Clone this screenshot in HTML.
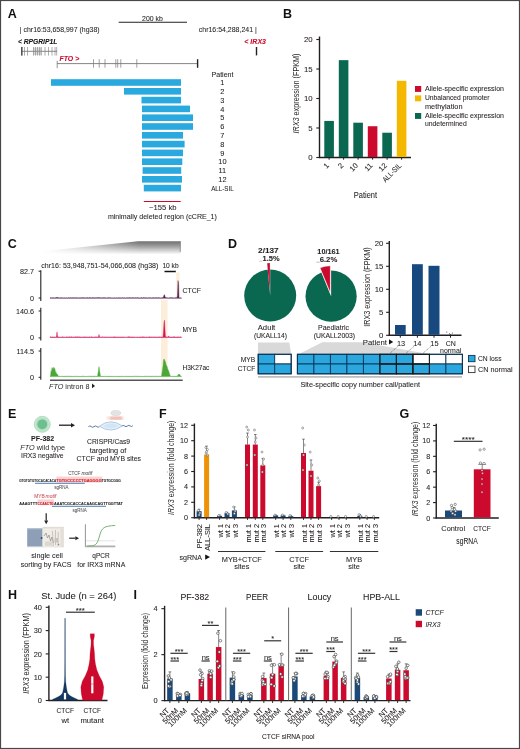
<!DOCTYPE html>
<html><head><meta charset="utf-8"><title>Figure</title>
<style>
html,body{margin:0;padding:0;background:#fff;}
body{width:520px;height:749px;overflow:hidden;font-family:"Liberation Sans",sans-serif;}
svg{display:block;will-change:transform;}
svg text{font-family:"Liberation Sans",sans-serif;}
</style></head><body>
<svg width="520" height="749" viewBox="0 0 520 749">
<rect x="0" y="0" width="520" height="749" fill="#fff"/>
<text x="7.7" y="17.7" font-size="12.5" font-weight="bold" fill="#111">A</text>
<text x="19.8" y="31.5" font-size="7.2" fill="#231f20" stroke="#231f20" stroke-width="0.07" textLength="79.8" lengthAdjust="spacingAndGlyphs">| chr16:53,658,997 (hg38)</text>
<line x1="118.7" y1="22.3" x2="187" y2="22.3" stroke="#222" stroke-width="1.1"/>
<text x="152.5" y="20.6" font-size="7.2" text-anchor="middle" fill="#231f20" stroke="#231f20" stroke-width="0.07" textLength="20.8" lengthAdjust="spacingAndGlyphs">200 kb</text>
<text x="198.8" y="31.5" font-size="7.2" fill="#231f20" stroke="#231f20" stroke-width="0.07" textLength="58" lengthAdjust="spacingAndGlyphs">chr16:54,288,241 |</text>
<text x="17.9" y="43.6" font-size="7" font-weight="bold" font-style="italic" fill="#111" stroke="#111" stroke-width="0.07" textLength="39.4" lengthAdjust="spacingAndGlyphs">&lt; RPGRIP1L</text>
<line x1="21.2" y1="51.3" x2="57" y2="51.3" stroke="#555" stroke-width="0.7"/>
<rect x="21" y="47" width="1.6" height="8.6" fill="#555"/>
<line x1="24.5" y1="47" x2="24.5" y2="55.6" stroke="#777" stroke-width="0.6"/>
<line x1="27.5" y1="47" x2="27.5" y2="55.6" stroke="#777" stroke-width="0.6"/>
<line x1="33.5" y1="47" x2="33.5" y2="55.6" stroke="#777" stroke-width="0.6"/>
<line x1="35.5" y1="47" x2="35.5" y2="55.6" stroke="#777" stroke-width="0.6"/>
<line x1="37.5" y1="47" x2="37.5" y2="55.6" stroke="#777" stroke-width="0.6"/>
<line x1="39.5" y1="47" x2="39.5" y2="55.6" stroke="#777" stroke-width="0.6"/>
<line x1="41.2" y1="47" x2="41.2" y2="55.6" stroke="#777" stroke-width="0.6"/>
<line x1="45" y1="47" x2="45" y2="55.6" stroke="#777" stroke-width="0.6"/>
<line x1="48.5" y1="47" x2="48.5" y2="55.6" stroke="#777" stroke-width="0.6"/>
<line x1="52" y1="47" x2="52" y2="55.6" stroke="#777" stroke-width="0.6"/>
<line x1="55" y1="47" x2="55" y2="55.6" stroke="#777" stroke-width="0.6"/>
<line x1="56.7" y1="47" x2="56.7" y2="55.6" stroke="#777" stroke-width="0.6"/>
<rect x="33" y="47.5" width="9" height="7.5" fill="#999" opacity="0.35"/>
<text x="59.5" y="61.3" font-size="7" font-weight="bold" font-style="italic" fill="#cc0a2e" stroke="#cc0a2e" stroke-width="0.07" textLength="19.7" lengthAdjust="spacingAndGlyphs">FTO &gt;</text>
<line x1="57.2" y1="63.6" x2="197.6" y2="63.6" stroke="#666" stroke-width="0.8"/>
<line x1="57.2" y1="60.8" x2="57.2" y2="68.2" stroke="#666" stroke-width="0.7"/>
<line x1="93.5" y1="59.2" x2="93.5" y2="67.7" stroke="#777" stroke-width="0.7"/>
<line x1="99.2" y1="59.2" x2="99.2" y2="67.7" stroke="#777" stroke-width="0.7"/>
<line x1="105" y1="59.2" x2="105" y2="67.7" stroke="#777" stroke-width="0.7"/>
<line x1="115.8" y1="59.2" x2="115.8" y2="67.7" stroke="#777" stroke-width="0.7"/>
<line x1="117.7" y1="59.2" x2="117.7" y2="67.7" stroke="#777" stroke-width="0.7"/>
<line x1="120.8" y1="59.2" x2="120.8" y2="67.7" stroke="#777" stroke-width="0.7"/>
<line x1="136.8" y1="59.2" x2="136.8" y2="67.7" stroke="#777" stroke-width="0.7"/>
<line x1="197.6" y1="59.2" x2="197.6" y2="67.8" stroke="#222" stroke-width="1.4"/>
<text x="244.3" y="43.7" font-size="7" font-weight="bold" font-style="italic" fill="#cc0a2e" stroke="#cc0a2e" stroke-width="0.07" textLength="21.7" lengthAdjust="spacingAndGlyphs">&lt; IRX3</text>
<line x1="256.5" y1="47" x2="256.5" y2="55.4" stroke="#222" stroke-width="1.4"/>
<text x="222.5" y="77" font-size="7.4" text-anchor="middle" fill="#231f20" stroke="#231f20" stroke-width="0.07" textLength="21.9" lengthAdjust="spacingAndGlyphs">Patient</text>
<rect x="51" y="79.2" width="130" height="6.6" fill="#29a9de"/>
<text x="222.4" y="85.1" font-size="7.4" text-anchor="middle" fill="#231f20" stroke="#231f20" stroke-width="0.07">1</text>
<rect x="124" y="88" width="57" height="6.6" fill="#29a9de"/>
<text x="222.4" y="93.9" font-size="7.4" text-anchor="middle" fill="#231f20" stroke="#231f20" stroke-width="0.07">2</text>
<rect x="141.5" y="96.8" width="39.5" height="6.6" fill="#29a9de"/>
<text x="222.4" y="102.7" font-size="7.4" text-anchor="middle" fill="#231f20" stroke="#231f20" stroke-width="0.07">3</text>
<rect x="142" y="105.6" width="48" height="6.6" fill="#29a9de"/>
<text x="222.4" y="111.5" font-size="7.4" text-anchor="middle" fill="#231f20" stroke="#231f20" stroke-width="0.07">4</text>
<rect x="142" y="114.4" width="51" height="6.6" fill="#29a9de"/>
<text x="222.4" y="120.3" font-size="7.4" text-anchor="middle" fill="#231f20" stroke="#231f20" stroke-width="0.07">5</text>
<rect x="142" y="123.2" width="51" height="6.6" fill="#29a9de"/>
<text x="222.4" y="129.1" font-size="7.4" text-anchor="middle" fill="#231f20" stroke="#231f20" stroke-width="0.07">6</text>
<rect x="142" y="132" width="41" height="6.6" fill="#29a9de"/>
<text x="222.4" y="137.9" font-size="7.4" text-anchor="middle" fill="#231f20" stroke="#231f20" stroke-width="0.07">7</text>
<rect x="142" y="140.8" width="42.6" height="6.6" fill="#29a9de"/>
<text x="222.4" y="146.7" font-size="7.4" text-anchor="middle" fill="#231f20" stroke="#231f20" stroke-width="0.07">8</text>
<rect x="142" y="149.6" width="41" height="6.6" fill="#29a9de"/>
<text x="222.4" y="155.5" font-size="7.4" text-anchor="middle" fill="#231f20" stroke="#231f20" stroke-width="0.07">9</text>
<rect x="142" y="158.4" width="40.3" height="6.6" fill="#29a9de"/>
<text x="222.4" y="164.3" font-size="7.4" text-anchor="middle" fill="#231f20" stroke="#231f20" stroke-width="0.07">10</text>
<rect x="142.6" y="167.2" width="38.6" height="6.6" fill="#29a9de"/>
<text x="222.4" y="173.1" font-size="7.4" text-anchor="middle" fill="#231f20" stroke="#231f20" stroke-width="0.07">11</text>
<rect x="142" y="176" width="40" height="6.6" fill="#29a9de"/>
<text x="222.4" y="181.9" font-size="7.4" text-anchor="middle" fill="#231f20" stroke="#231f20" stroke-width="0.07">12</text>
<rect x="143.8" y="184.8" width="37.2" height="6.6" fill="#29a9de"/>
<text x="222.4" y="190.7" font-size="7.4" text-anchor="middle" fill="#231f20" stroke="#231f20" stroke-width="0.07" textLength="22.4" lengthAdjust="spacingAndGlyphs">ALL-SIL</text>
<line x1="143.8" y1="201.5" x2="180.7" y2="201.5" stroke="#cc0a2e" stroke-width="1.1"/>
<text x="162.8" y="210.2" font-size="7.4" text-anchor="middle" fill="#231f20" stroke="#231f20" stroke-width="0.07" textLength="27.4" lengthAdjust="spacingAndGlyphs">~155 kb</text>
<text x="162.4" y="219.2" font-size="7.4" text-anchor="middle" fill="#231f20" stroke="#231f20" stroke-width="0.07" textLength="109" lengthAdjust="spacingAndGlyphs">minimally deleted region (cCRE_1)</text>
<text x="283" y="17.7" font-size="12.5" font-weight="bold" fill="#111">B</text>
<line x1="319.5" y1="36.5" x2="319.5" y2="158.1" stroke="#231f20" stroke-width="1.4"/>
<line x1="318.9" y1="157.5" x2="411" y2="157.5" stroke="#231f20" stroke-width="1.4"/>
<line x1="316.3" y1="157.5" x2="319.5" y2="157.5" stroke="#231f20" stroke-width="1.1"/>
<text x="312.6" y="160.2" font-size="7.8" text-anchor="end" fill="#231f20" stroke="#231f20" stroke-width="0.07">0</text>
<line x1="316.3" y1="128" x2="319.5" y2="128" stroke="#231f20" stroke-width="1.1"/>
<text x="312.6" y="130.7" font-size="7.8" text-anchor="end" fill="#231f20" stroke="#231f20" stroke-width="0.07">5</text>
<line x1="316.3" y1="98.5" x2="319.5" y2="98.5" stroke="#231f20" stroke-width="1.1"/>
<text x="312.6" y="101.2" font-size="7.8" text-anchor="end" fill="#231f20" stroke="#231f20" stroke-width="0.07">10</text>
<line x1="316.3" y1="69" x2="319.5" y2="69" stroke="#231f20" stroke-width="1.1"/>
<text x="312.6" y="71.7" font-size="7.8" text-anchor="end" fill="#231f20" stroke="#231f20" stroke-width="0.07">15</text>
<line x1="316.3" y1="39.5" x2="319.5" y2="39.5" stroke="#231f20" stroke-width="1.1"/>
<text x="312.6" y="42.2" font-size="7.8" text-anchor="end" fill="#231f20" stroke="#231f20" stroke-width="0.07">20</text>
<rect x="324.3" y="120.92" width="9.6" height="36.08" fill="#0b6850"/>
<line x1="329.1" y1="157.5" x2="329.1" y2="159.7" stroke="#231f20" stroke-width="1"/>
<text x="329.5" y="166.1" font-size="7.6" text-anchor="end" fill="#231f20" stroke="#231f20" stroke-width="0.07" transform="rotate(-45 329.5 166.1)">1</text>
<rect x="338.8" y="60.15" width="9.6" height="96.85" fill="#0b6850"/>
<line x1="343.6" y1="157.5" x2="343.6" y2="159.7" stroke="#231f20" stroke-width="1"/>
<text x="344" y="166.1" font-size="7.6" text-anchor="end" fill="#231f20" stroke="#231f20" stroke-width="0.07" transform="rotate(-45 344 166.1)">2</text>
<rect x="353.3" y="122.69" width="9.6" height="34.31" fill="#0b6850"/>
<line x1="358.1" y1="157.5" x2="358.1" y2="159.7" stroke="#231f20" stroke-width="1"/>
<text x="358.5" y="166.1" font-size="7.6" text-anchor="end" fill="#231f20" stroke="#231f20" stroke-width="0.07" transform="rotate(-45 358.5 166.1)">10</text>
<rect x="367.8" y="126.23" width="9.6" height="30.77" fill="#cc0a2e"/>
<line x1="372.6" y1="157.5" x2="372.6" y2="159.7" stroke="#231f20" stroke-width="1"/>
<text x="373" y="166.1" font-size="7.6" text-anchor="end" fill="#231f20" stroke="#231f20" stroke-width="0.07" transform="rotate(-45 373 166.1)">11</text>
<rect x="382.3" y="132.72" width="9.6" height="24.28" fill="#0b6850"/>
<line x1="387.1" y1="157.5" x2="387.1" y2="159.7" stroke="#231f20" stroke-width="1"/>
<text x="387.5" y="166.1" font-size="7.6" text-anchor="end" fill="#231f20" stroke="#231f20" stroke-width="0.07" transform="rotate(-45 387.5 166.1)">12</text>
<rect x="396.8" y="80.8" width="9.6" height="76.2" fill="#f5b800"/>
<line x1="401.6" y1="157.5" x2="401.6" y2="159.7" stroke="#231f20" stroke-width="1"/>
<text x="402" y="166.1" font-size="7.6" text-anchor="end" fill="#231f20" stroke="#231f20" stroke-width="0.07" textLength="23.5" lengthAdjust="spacingAndGlyphs" transform="rotate(-45 402 166.1)">ALL-SIL</text>
<text x="365.4" y="198.3" font-size="9" text-anchor="middle" fill="#231f20" stroke="#231f20" stroke-width="0.07" textLength="23.2" lengthAdjust="spacingAndGlyphs">Patient</text>
<text x="299.6" y="91.5" font-size="7" fill="#222" stroke="#222" stroke-width="0.07"></text>
<text x="299.0" y="93.5" font-size="8.6" text-anchor="middle" fill="#231f20" transform="rotate(-90 299.0 93.5)" textLength="80" lengthAdjust="spacingAndGlyphs"><tspan font-style="italic">IRX3</tspan> expression (FPKM)</text>
<rect x="415" y="86" width="6.2" height="5.9" fill="#cc0a2e"/>
<rect x="415" y="95.4" width="6.2" height="5.9" fill="#f5b800"/>
<rect x="415" y="113" width="6.2" height="5.9" fill="#0b6850"/>
<text x="425" y="91.3" font-size="7.2" fill="#231f20" stroke="#231f20" stroke-width="0.07" textLength="79" lengthAdjust="spacingAndGlyphs">Allele-specific expression</text>
<text x="425" y="100.2" font-size="7.2" fill="#231f20" stroke="#231f20" stroke-width="0.07" textLength="64.5" lengthAdjust="spacingAndGlyphs">Unbalanced promoter</text>
<text x="425" y="108.6" font-size="7.2" fill="#231f20" stroke="#231f20" stroke-width="0.07" textLength="37.5" lengthAdjust="spacingAndGlyphs">methylation</text>
<text x="425" y="118.4" font-size="7.2" fill="#231f20" stroke="#231f20" stroke-width="0.07" textLength="79" lengthAdjust="spacingAndGlyphs">Allele-specific expression</text>
<text x="425" y="126.4" font-size="7.2" fill="#231f20" stroke="#231f20" stroke-width="0.07" textLength="41.7" lengthAdjust="spacingAndGlyphs">undetermined</text>
<text x="7.7" y="248.3" font-size="12.5" font-weight="bold" fill="#111">C</text>
<defs><linearGradient id="wg" gradientUnits="userSpaceOnUse" x1="0" y1="241.2" x2="0" y2="254.5"><stop offset="0" stop-color="#6e6e6e"/><stop offset="0.35" stop-color="#9a9a9a"/><stop offset="1" stop-color="#ffffff"/></linearGradient><linearGradient id="wh" gradientUnits="userSpaceOnUse" x1="40" y1="0" x2="140" y2="0"><stop offset="0" stop-color="#fff" stop-opacity="1"/><stop offset="1" stop-color="#fff" stop-opacity="0"/></linearGradient></defs>
<polygon points="40,251.5 138,241.2 180.7,241.2 180.7,254.5 40,254.5" fill="url(#wg)"/>
<rect x="40" y="240" width="100" height="15" fill="url(#wh)"/>
<line x1="180.3" y1="241.2" x2="180.3" y2="252" stroke="#8a8a8a" stroke-width="0.8"/>
<text x="41.3" y="268.3" font-size="7.2" fill="#231f20" stroke="#231f20" stroke-width="0.07" textLength="117.1" lengthAdjust="spacingAndGlyphs">chr16: 53,948,751-54,066,608 (hg38)</text>
<text x="162.4" y="268.3" font-size="7.2" fill="#231f20" stroke="#231f20" stroke-width="0.07" textLength="16.2" lengthAdjust="spacingAndGlyphs">10 kb</text>
<line x1="164.5" y1="271.5" x2="175.8" y2="271.5" stroke="#111" stroke-width="1.5"/>
<rect x="176.2" y="272.5" width="3.4" height="26.1" fill="#fdeedc"/>
<rect x="161" y="299.8" width="6.6" height="77.4" fill="#fdeedc"/>
<line x1="40.8" y1="270.2" x2="40.8" y2="301" stroke="#231f20" stroke-width="1.1"/>
<line x1="38.6" y1="271.2" x2="40.8" y2="271.2" stroke="#231f20" stroke-width="1"/>
<line x1="38.6" y1="298" x2="40.8" y2="298" stroke="#231f20" stroke-width="1"/>
<text x="34" y="273.7" font-size="7.2" text-anchor="end" fill="#231f20" stroke="#231f20" stroke-width="0.07">82.7</text>
<text x="34" y="300.5" font-size="7.2" text-anchor="end" fill="#231f20" stroke="#231f20" stroke-width="0.07">0</text>
<line x1="40.8" y1="307.7" x2="40.8" y2="340.4" stroke="#231f20" stroke-width="1.1"/>
<line x1="38.6" y1="311" x2="40.8" y2="311" stroke="#231f20" stroke-width="1"/>
<line x1="38.6" y1="337.9" x2="40.8" y2="337.9" stroke="#231f20" stroke-width="1"/>
<text x="34" y="313.5" font-size="7.2" text-anchor="end" fill="#231f20" stroke="#231f20" stroke-width="0.07">140.6</text>
<text x="34" y="340.4" font-size="7.2" text-anchor="end" fill="#231f20" stroke="#231f20" stroke-width="0.07">0</text>
<line x1="40.8" y1="348" x2="40.8" y2="379.8" stroke="#231f20" stroke-width="1.1"/>
<line x1="38.6" y1="351" x2="40.8" y2="351" stroke="#231f20" stroke-width="1"/>
<line x1="38.6" y1="377.3" x2="40.8" y2="377.3" stroke="#231f20" stroke-width="1"/>
<text x="34" y="353.5" font-size="7.2" text-anchor="end" fill="#231f20" stroke="#231f20" stroke-width="0.07">114.5</text>
<text x="34" y="379.8" font-size="7.2" text-anchor="end" fill="#231f20" stroke="#231f20" stroke-width="0.07">0</text>
<path d="M50 298.2 L50 297.95 L50.5 297.66 L51 297.69 L51.5 297.9 L52 297.8 L52.5 297.82 L53 297.74 L53.5 297.68 L54 297.96 L54.5 297.99 L55 297.67 L55.5 297.83 L56 297.7 L56.5 297.6 L57 297 L57.5 297.6 L58 297.91 L58.5 297.62 L59 297.64 L59.5 297.99 L60 297.99 L60.5 297.78 L61 297.62 L61.5 297.85 L62 297.91 L62.5 297.83 L63 297.99 L63.5 297.91 L64 297.82 L64.5 297.8 L65 297.91 L65.5 297.91 L66 297.91 L66.5 297.82 L67 297.88 L67.5 297.99 L68 297.66 L68.5 297.78 L69 297.74 L69.5 297.93 L70 297.6 L70.5 297.66 L71 297.95 L71.5 297.87 L72 297.71 L72.5 297.72 L73 297.63 L73.5 297.83 L74 297.67 L74.5 297.73 L75 297.88 L75.5 297.76 L76 297.65 L76.5 297.66 L77 297.8 L77.5 297.76 L78 297.99 L78.5 297.9 L79 297.68 L79.5 297.83 L80 297.93 L80.5 297.78 L81 297.72 L81.5 297.73 L82 297.85 L82.5 297.82 L83 297.8 L83.5 297.69 L84 297.79 L84.5 297.84 L85 297.8 L85.5 297.99 L86 297.98 L86.5 297.72 L87 297.61 L87.5 297.76 L88 297.84 L88.5 297.93 L89 297.8 L89.5 297.61 L90 297.69 L90.5 297.78 L91 297.66 L91.5 297.91 L92 297.79 L92.5 297.62 L93 297.77 L93.5 297.82 L94 297.89 L94.5 297.78 L95 297.62 L95.5 298 L96 297.69 L96.5 297.67 L97 297.65 L97.5 297.7 L98 297.68 L98.5 297.7 L99 297.2 L99.5 297.7 L100 297.98 L100.5 297.65 L101 297.77 L101.5 297.92 L102 297.8 L102.5 297.81 L103 297.86 L103.5 297.86 L104 297.78 L104.5 297.75 L105 297.76 L105.5 297.82 L106 297.99 L106.5 297.91 L107 297.93 L107.5 297.77 L108 297.66 L108.5 297.68 L109 297.68 L109.5 297.67 L110 297.9 L110.5 297.66 L111 297.73 L111.5 297.97 L112 297.99 L112.5 297.99 L113 297.7 L113.5 297.9 L114 297.96 L114.5 297.75 L115 297.86 L115.5 297.97 L116 297.94 L116.5 297.79 L117 297.93 L117.5 297.89 L118 297.72 L118.5 297.82 L119 297.87 L119.5 297.81 L120 297.99 L120.5 297.85 L121 297.83 L121.5 297.92 L122 297.96 L122.5 297.64 L123 297.8 L123.5 297.92 L124 297.76 L124.5 297.67 L125 297.99 L125.5 297.99 L126 297.94 L126.5 297.71 L127 297.94 L127.5 297.72 L128 297.73 L128.5 297.78 L129 297.91 L129.5 297.61 L130 297.68 L130.5 297.79 L131 297.91 L131.5 297.74 L132 297.84 L132.5 297.77 L133 297.87 L133.5 297.75 L134 297.98 L134.5 297.88 L135 297.61 L135.5 297.65 L136 297.88 L136.5 297.66 L137 297.88 L137.5 297.62 L138 297.7 L138.5 297.83 L139 297.9 L139.5 298 L140 297.65 L140.5 297.98 L141 297.67 L141.5 297.62 L142 297.77 L142.5 297.93 L143 297.65 L143.5 297.61 L144 297.72 L144.5 297.8 L145 297.85 L145.5 297.86 L146 297.92 L146.5 297.73 L147 297.83 L147.5 297.92 L148 297.96 L148.5 297.73 L149 297.88 L149.5 297.8 L150 297.87 L150.5 297.65 L151 297.64 L151.5 297.99 L152 297.92 L152.5 297.87 L153 297.61 L153.5 297.69 L154 297.86 L154.5 297.91 L155 297.73 L155.5 297.66 L156 297.63 L156.5 297.86 L157 297.65 L157.5 297.73 L158 297.81 L158.5 297.61 L159 297.91 L159.5 297.71 L160 297.97 L160.5 297.93 L161 297.64 L161.5 297.91 L162 297.7 L162.5 297.76 L163 297.66 L163.5 296.8 L164 295.05 L164.5 294.7 L165 296.45 L165.5 297.76 L166 297.62 L166.5 297.65 L167 297.95 L167.5 297.78 L168 297.96 L168.5 297.98 L169 297.97 L169.5 297.65 L170 297.68 L170.5 297.67 L171 297.86 L171.5 297.75 L172 297.69 L172.5 297.85 L173 297.77 L173.5 297.91 L174 297.97 L174.5 297.89 L175 297.64 L175.5 297.77 L176 297.63 L176.5 297.82 L177 297.89 L177.5 295.26 L178 280.57 L178.5 283.51 L179 297.73 L179.5 297.96 L180 297.95 L180.5 297.65 L181 297.98 L181.5 297.9 L181.5 298.2 Z" fill="#4a2352" stroke="#4a2352" stroke-width="0.4"/>
<path d="M50 337.4 L50 336.82 L50.5 336.82 L51 337.18 L51.5 337.17 L52 336.87 L52.5 336.91 L53 336.93 L53.5 337.08 L54 336.96 L54.5 336.96 L55 336.97 L55.5 337.14 L56 337.03 L56.5 336.48 L57 331.9 L57.5 336.48 L58 336.82 L58.5 336.98 L59 337.02 L59.5 337.09 L60 337.19 L60.5 337.19 L61 337.01 L61.5 337.07 L62 337.05 L62.5 336.84 L63 336.99 L63.5 336.98 L64 337.11 L64.5 337.19 L65 337.07 L65.5 337.15 L66 337 L66.5 336.8 L67 336.93 L67.5 337.13 L68 336.84 L68.5 336.88 L69 336.91 L69.5 336.84 L70 336.89 L70.5 336.88 L71 337.06 L71.5 336.81 L72 336.82 L72.5 337.14 L73 336.9 L73.5 336.91 L74 337.02 L74.5 336.99 L75 337 L75.5 336.83 L76 337 L76.5 336.87 L77 337.06 L77.5 336.85 L78 336.84 L78.5 337.02 L79 336.97 L79.5 336.83 L80 336.91 L80.5 337.01 L81 337.11 L81.5 337.07 L82 336.92 L82.5 337.13 L83 336.84 L83.5 337.09 L84 336.84 L84.5 337.08 L85 336.82 L85.5 336.92 L86 337 L86.5 336.99 L87 336.94 L87.5 336.96 L88 337.08 L88.5 337.12 L89 337 L89.5 336.83 L90 336.95 L90.5 337.17 L91 336.87 L91.5 336.91 L92 336.84 L92.5 337.12 L93 336.9 L93.5 337.18 L94 336.94 L94.5 337.09 L95 337.11 L95.5 336.85 L96 337.16 L96.5 336.99 L97 336.86 L97.5 337.1 L98 337.12 L98.5 336.85 L99 334.4 L99.5 336.9 L100 337.19 L100.5 337.06 L101 337.13 L101.5 336.93 L102 337.17 L102.5 336.82 L103 337.19 L103.5 336.91 L104 337.19 L104.5 337.1 L105 336.87 L105.5 337.14 L106 337.13 L106.5 336.92 L107 337.05 L107.5 337.18 L108 336.8 L108.5 337.14 L109 337.19 L109.5 337.06 L110 336.95 L110.5 336.9 L111 337.15 L111.5 337.07 L112 337.19 L112.5 337.02 L113 336.89 L113.5 336.9 L114 336.84 L114.5 336.9 L115 336.86 L115.5 336.92 L116 337.01 L116.5 337.11 L117 336.94 L117.5 337.07 L118 337.16 L118.5 337.02 L119 336.85 L119.5 337.15 L120 336.97 L120.5 337.04 L121 336.99 L121.5 337.14 L122 336.82 L122.5 337.1 L123 336.96 L123.5 337.03 L124 337.19 L124.5 336.98 L125 337.14 L125.5 337.18 L126 337.19 L126.5 337.14 L127 337.16 L127.5 336.95 L128 337 L128.5 336.81 L129 336.83 L129.5 336.8 L130 337.11 L130.5 337.02 L131 337.1 L131.5 336.96 L132 336.95 L132.5 336.88 L133 336.92 L133.5 337.1 L134 337.03 L134.5 336.99 L135 337.2 L135.5 337.19 L136 337.04 L136.5 337.16 L137 336.91 L137.5 337.1 L138 337.16 L138.5 337.13 L139 337.11 L139.5 337.11 L140 336.99 L140.5 337.01 L141 337.08 L141.5 336.94 L142 337.12 L142.5 336.84 L143 336.81 L143.5 336.91 L144 337.03 L144.5 337 L145 336.97 L145.5 337.18 L146 337.03 L146.5 336.99 L147 337.13 L147.5 337.16 L148 336.88 L148.5 337.05 L149 336.99 L149.5 336.83 L150 336.96 L150.5 337.08 L151 336.81 L151.5 337.05 L152 337.19 L152.5 336.93 L153 337.16 L153.5 337.08 L154 336.86 L154.5 336.93 L155 337.19 L155.5 337.02 L156 337.04 L156.5 337.01 L157 337.12 L157.5 336.96 L158 337.17 L158.5 337.09 L159 337.05 L159.5 336.83 L160 337.17 L160.5 336.9 L161 337.12 L161.5 336.97 L162 337.04 L162.5 337.01 L163 336.9 L163.5 331.67 L164 322.13 L164.5 320.22 L165 329.76 L165.5 336.86 L166 336.94 L166.5 336.82 L167 336.92 L167.5 337.19 L168 336.65 L168.5 335.9 L169 336.65 L169.5 337 L170 337.06 L170.5 337.02 L171 336.88 L171.5 337.09 L172 336.99 L172.5 337.01 L173 336.82 L173.5 336.88 L174 336.83 L174.5 336.87 L175 337.08 L175.5 337.11 L176 337 L176.5 337.1 L177 337.03 L177.5 336.93 L178 336.83 L178.5 336.97 L179 336.87 L179.5 337.16 L180 337.06 L180.5 336.8 L181 337.14 L181.5 337.03 L181.5 337.4 Z" fill="#d4145a" stroke="#d4145a" stroke-width="0.4"/>
<path d="M50 376.6 L50 376.38 L50.5 376.29 L51 370.59 L51.5 371.68 L52 367.64 L52.5 369.49 L53 367.44 L53.5 367.59 L54 370.04 L54.5 367.73 L55 369.31 L55.5 372.5 L56 371.79 L56.5 373.94 L57 373.9 L57.5 374.37 L58 375.46 L58.5 376.33 L59 376.32 L59.5 376.17 L60 376.19 L60.5 376.42 L61 376.41 L61.5 376.38 L62 376.16 L62.5 376.32 L63 376.26 L63.5 376.36 L64 376.3 L64.5 376.33 L65 376.34 L65.5 376.27 L66 376.27 L66.5 376.18 L67 376.25 L67.5 376.17 L68 376.19 L68.5 376.15 L69 376.25 L69.5 376.4 L70 376.19 L70.5 376.16 L71 376.18 L71.5 376.28 L72 376.24 L72.5 376.39 L73 376.2 L73.5 376.28 L74 376.36 L74.5 376.43 L75 376.19 L75.5 376.15 L76 376.42 L76.5 376.21 L77 376.33 L77.5 376.4 L78 376.36 L78.5 376.22 L79 376.19 L79.5 376.44 L80 376.27 L80.5 376.44 L81 376.23 L81.5 376.35 L82 376.19 L82.5 376.16 L83 376.3 L83.5 376.15 L84 376.36 L84.5 376.43 L85 376.27 L85.5 376.44 L86 376.39 L86.5 376.33 L87 376.27 L87.5 376.4 L88 376.44 L88.5 376.19 L89 376.36 L89.5 376.16 L90 376.18 L90.5 376.34 L91 376.31 L91.5 376.29 L92 376.26 L92.5 376.27 L93 376.28 L93.5 376.26 L94 376.17 L94.5 376.3 L95 376.32 L95.5 376.23 L96 376.38 L96.5 376.36 L97 376.16 L97.5 376.29 L98 373.27 L98.5 369.93 L99 366.6 L99.5 369.93 L100 373.27 L100.5 376.27 L101 376.26 L101.5 376.43 L102 376.26 L102.5 376.31 L103 376.25 L103.5 376.34 L104 376.24 L104.5 376.23 L105 376.44 L105.5 376.43 L106 376.25 L106.5 376.16 L107 376.37 L107.5 376.31 L108 376.27 L108.5 376.35 L109 376.34 L109.5 376.36 L110 376.34 L110.5 376.27 L111 376.36 L111.5 376.34 L112 376.22 L112.5 376.44 L113 376.28 L113.5 376.23 L114 376.36 L114.5 376.38 L115 376.21 L115.5 376.38 L116 376.39 L116.5 376.32 L117 376.24 L117.5 376.42 L118 376.35 L118.5 376.35 L119 376.2 L119.5 376.32 L120 376.19 L120.5 376.4 L121 376.35 L121.5 376.25 L122 376.18 L122.5 376.31 L123 376.38 L123.5 376.41 L124 376.29 L124.5 376.39 L125 376.21 L125.5 376.2 L126 376.39 L126.5 376.37 L127 376.21 L127.5 376.26 L128 376.21 L128.5 376.35 L129 376.41 L129.5 376.36 L130 376.21 L130.5 376.37 L131 376.35 L131.5 376.32 L132 376.32 L132.5 376.33 L133 376.17 L133.5 376.4 L134 376.45 L134.5 376.17 L135 376.19 L135.5 376.15 L136 376.32 L136.5 376.16 L137 376.17 L137.5 376.38 L138 376.23 L138.5 376.2 L139 376.25 L139.5 376.29 L140 376.36 L140.5 376.35 L141 376.38 L141.5 376.43 L142 376.27 L142.5 376.36 L143 376.21 L143.5 376.44 L144 376.18 L144.5 376.24 L145 376.17 L145.5 376.18 L146 376.18 L146.5 376.28 L147 376.45 L147.5 376.23 L148 376.4 L148.5 376.36 L149 376.25 L149.5 376.29 L150 376.33 L150.5 376.17 L151 376.27 L151.5 376.35 L152 376.37 L152.5 376.19 L153 376.31 L153.5 376.22 L154 376.34 L154.5 376.39 L155 376.29 L155.5 376.2 L156 376.4 L156.5 376.21 L157 376.17 L157.5 376.21 L158 376.2 L158.5 376.45 L159 376.26 L159.5 376.19 L160 376.44 L160.5 376.37 L161 376.37 L161.5 376.29 L162 372.64 L162.5 369.56 L163 365.92 L163.5 360.26 L164 358.91 L164.5 359.62 L165 360.94 L165.5 361.81 L166 364.13 L166.5 365.64 L167 366.03 L167.5 368.44 L168 369.46 L168.5 370.5 L169 372.01 L169.5 373.72 L170 375.14 L170.5 376.24 L171 376.24 L171.5 376.38 L172 376.29 L172.5 376.24 L173 376.43 L173.5 376.32 L174 376.32 L174.5 376.19 L175 376.17 L175.5 376.34 L176 376.18 L176.5 376.21 L177 376.37 L177.5 376.31 L178 374.6 L178.5 374.6 L179 374.6 L179.5 374.6 L180 374.6 L180.5 376.25 L181 376.23 L181.5 376.28 L181.5 376.6 Z" fill="#4aa837" stroke="#4aa837" stroke-width="0.4"/>
<line x1="50" y1="380.3" x2="182.7" y2="380.3" stroke="#555" stroke-width="1.6"/>
<text x="49" y="388.8" font-size="7.8" fill="#231f20" textLength="40.5" lengthAdjust="spacingAndGlyphs"><tspan font-style="italic">FTO</tspan> intron 8</text>
<polygon points="92,383.6 92,388.2 95,385.9" fill="#222"/>
<text x="182.4" y="292.5" font-size="7.3" fill="#231f20" stroke="#231f20" stroke-width="0.07" textLength="18.5" lengthAdjust="spacingAndGlyphs">CTCF</text>
<text x="182.4" y="331.8" font-size="7.3" fill="#231f20" stroke="#231f20" stroke-width="0.07" textLength="14.5" lengthAdjust="spacingAndGlyphs">MYB</text>
<text x="182.4" y="370.3" font-size="7.3" fill="#231f20" stroke="#231f20" stroke-width="0.07" textLength="27" lengthAdjust="spacingAndGlyphs">H3K27ac</text>
<text x="228" y="248.2" font-size="12.5" font-weight="bold" fill="#111">D</text>
<circle cx="270.2" cy="295.6" r="26" fill="#0b6850"/>
<path d="M270.2 295.6 L267.72 269.42 A26.3 26.3 0 0 1 270.2 269.3 Z" fill="#ffffff"/>
<path d="M269.9 292 L267.17 263.13 A29 29 0 0 1 269.9 263 Z" fill="#cc0a2e"/>
<circle cx="331.1" cy="296.2" r="25.6" fill="#0b6850"/>
<path d="M331.1 296.2 L321.27 272.24 A25.9 25.9 0 0 1 331.1 270.3 Z" fill="#ffffff"/>
<path d="M330.4 293.2 L319.96 267.76 A27.5 27.5 0 0 1 330.4 265.7 Z" fill="#cc0a2e" stroke="#fff" stroke-width="0.6"/>
<text x="268.4" y="252.7" font-size="7.2" text-anchor="middle" font-weight="bold" fill="#231f20" stroke="#231f20" stroke-width="0.07" textLength="20.6" lengthAdjust="spacingAndGlyphs">2/137</text>
<text x="262.6" y="260.9" font-size="7.2" font-weight="bold" fill="#231f20" stroke="#231f20" stroke-width="0.07" textLength="17" lengthAdjust="spacingAndGlyphs">1.5%</text>
<line x1="259.2" y1="261.2" x2="262.2" y2="261.2" stroke="#c9a3aa" stroke-width="0.6"/>
<text x="328.5" y="253.6" font-size="7.2" text-anchor="middle" font-weight="bold" fill="#231f20" stroke="#231f20" stroke-width="0.07" textLength="22.3" lengthAdjust="spacingAndGlyphs">10/161</text>
<text x="319.7" y="261.9" font-size="7.2" font-weight="bold" fill="#231f20" stroke="#231f20" stroke-width="0.07" textLength="17.6" lengthAdjust="spacingAndGlyphs">6.2%</text>
<line x1="316.3" y1="262.2" x2="319.8" y2="262.2" stroke="#9a9a9a" stroke-width="0.6"/>
<text x="266.5" y="329.5" font-size="7.4" text-anchor="middle" fill="#231f20" stroke="#231f20" stroke-width="0.07" textLength="17.5" lengthAdjust="spacingAndGlyphs">Adult</text>
<text x="270.5" y="337.6" font-size="7.4" text-anchor="middle" fill="#231f20" stroke="#231f20" stroke-width="0.07" textLength="33" lengthAdjust="spacingAndGlyphs">(UKALL14)</text>
<text x="333.5" y="329.8" font-size="7.4" text-anchor="middle" fill="#231f20" stroke="#231f20" stroke-width="0.07" textLength="31" lengthAdjust="spacingAndGlyphs">Paediatric</text>
<text x="334.4" y="337.6" font-size="7.4" text-anchor="middle" fill="#231f20" stroke="#231f20" stroke-width="0.07" textLength="41.3" lengthAdjust="spacingAndGlyphs">(UKALL2003)</text>
<polygon points="258,342.4 289.3,342.4 291.2,354.3 258,354.3" fill="#d9d9d9"/>
<polygon points="298.5,354.3 322.3,342.3 362,342.3 430,354.3" fill="#d9d9d9"/>
<line x1="389.3" y1="241" x2="389.3" y2="335.9" stroke="#231f20" stroke-width="1.4"/>
<line x1="388.7" y1="335.3" x2="461.5" y2="335.3" stroke="#231f20" stroke-width="1.4"/>
<line x1="386.1" y1="335.3" x2="389.3" y2="335.3" stroke="#231f20" stroke-width="1.1"/>
<text x="383.4" y="338" font-size="7.8" text-anchor="end" fill="#231f20" stroke="#231f20" stroke-width="0.07">0</text>
<line x1="386.1" y1="312.3" x2="389.3" y2="312.3" stroke="#231f20" stroke-width="1.1"/>
<text x="383.4" y="315" font-size="7.8" text-anchor="end" fill="#231f20" stroke="#231f20" stroke-width="0.07">5</text>
<line x1="386.1" y1="289.3" x2="389.3" y2="289.3" stroke="#231f20" stroke-width="1.1"/>
<text x="383.4" y="292" font-size="7.8" text-anchor="end" fill="#231f20" stroke="#231f20" stroke-width="0.07">10</text>
<line x1="386.1" y1="266.3" x2="389.3" y2="266.3" stroke="#231f20" stroke-width="1.1"/>
<text x="383.4" y="269" font-size="7.8" text-anchor="end" fill="#231f20" stroke="#231f20" stroke-width="0.07">15</text>
<line x1="386.1" y1="243.3" x2="389.3" y2="243.3" stroke="#231f20" stroke-width="1.1"/>
<text x="383.4" y="246" font-size="7.8" text-anchor="end" fill="#231f20" stroke="#231f20" stroke-width="0.07">20</text>
<text x="369.6" y="287.0" font-size="8.6" text-anchor="middle" fill="#231f20" transform="rotate(-90 369.6 287.0)" textLength="79.5" lengthAdjust="spacingAndGlyphs">IRX3 expression (FPKM)</text>
<rect x="395" y="325" width="10.7" height="9.8" fill="#17497f"/>
<rect x="412" y="264.2" width="10.8" height="70.6" fill="#17497f"/>
<rect x="428.5" y="265.8" width="11" height="69" fill="#17497f"/>
<line x1="400.3" y1="335.3" x2="400.3" y2="337.7" stroke="#231f20" stroke-width="1"/>
<line x1="417.4" y1="335.3" x2="417.4" y2="337.7" stroke="#231f20" stroke-width="1"/>
<line x1="434" y1="335.3" x2="434" y2="337.7" stroke="#231f20" stroke-width="1"/>
<line x1="450.5" y1="335.3" x2="450.5" y2="337.7" stroke="#231f20" stroke-width="1"/>
<circle cx="446.8" cy="332" r="0.5" fill="#222"/>
<circle cx="449.5" cy="333.8" r="0.5" fill="#222"/>
<circle cx="452.3" cy="333" r="0.5" fill="#222"/>
<circle cx="450.6" cy="334.4" r="0.5" fill="#222"/>
<text x="362.8" y="344.6" font-size="7.4" fill="#231f20" stroke="#231f20" stroke-width="0.07" textLength="24.2" lengthAdjust="spacingAndGlyphs">Patient</text>
<polygon points="389,339.3 389,344.5 393.2,341.9" fill="#111"/>
<text x="401" y="346.2" font-size="7.4" text-anchor="middle" fill="#231f20" stroke="#231f20" stroke-width="0.07">13</text>
<text x="417.3" y="346.2" font-size="7.4" text-anchor="middle" fill="#231f20" stroke="#231f20" stroke-width="0.07">14</text>
<text x="434.4" y="346.2" font-size="7.4" text-anchor="middle" fill="#231f20" stroke="#231f20" stroke-width="0.07">15</text>
<text x="450.8" y="346.2" font-size="7.4" text-anchor="middle" fill="#231f20" stroke="#231f20" stroke-width="0.07" textLength="10.1" lengthAdjust="spacingAndGlyphs">CN</text>
<text x="450.7" y="353.4" font-size="7.4" text-anchor="middle" fill="#231f20" stroke="#231f20" stroke-width="0.07" textLength="21.3" lengthAdjust="spacingAndGlyphs">normal</text>
<line x1="397.7" y1="346.5" x2="390" y2="353.2" stroke="#333" stroke-width="0.6" stroke-dasharray="1,0.9"/>
<line x1="413.8" y1="346.5" x2="406" y2="353.2" stroke="#333" stroke-width="0.6" stroke-dasharray="1,0.9"/>
<line x1="430.8" y1="346.5" x2="423" y2="353.2" stroke="#333" stroke-width="0.6" stroke-dasharray="1,0.9"/>
<text x="255.2" y="361.7" font-size="7.3" text-anchor="end" fill="#231f20" stroke="#231f20" stroke-width="0.07" textLength="14.5" lengthAdjust="spacingAndGlyphs">MYB</text>
<text x="255.2" y="371.4" font-size="7.3" text-anchor="end" fill="#231f20" stroke="#231f20" stroke-width="0.07" textLength="17.5" lengthAdjust="spacingAndGlyphs">CTCF</text>
<rect x="258.2" y="354.3" width="16.5" height="9.7" fill="#2aa7df" stroke="#0c3554" stroke-width="0.9"/>
<rect x="258.2" y="364" width="16.5" height="9.8" fill="#2aa7df" stroke="#0c3554" stroke-width="0.9"/>
<rect x="274.7" y="354.3" width="16.5" height="9.7" fill="#ffffff" stroke="#0c3554" stroke-width="0.9"/>
<rect x="274.7" y="364" width="16.5" height="9.8" fill="#2aa7df" stroke="#0c3554" stroke-width="0.9"/>
<rect x="258.2" y="354.3" width="33" height="19.5" fill="none" stroke="#0c3554" stroke-width="1.1"/>
<rect x="297.4" y="354.3" width="16.5" height="9.7" fill="#2aa7df" stroke="#0c3554" stroke-width="0.9"/>
<rect x="297.4" y="364" width="16.5" height="9.8" fill="#2aa7df" stroke="#0c3554" stroke-width="0.9"/>
<rect x="313.9" y="354.3" width="16.5" height="9.7" fill="#2aa7df" stroke="#0c3554" stroke-width="0.9"/>
<rect x="313.9" y="364" width="16.5" height="9.8" fill="#2aa7df" stroke="#0c3554" stroke-width="0.9"/>
<rect x="330.4" y="354.3" width="16.5" height="9.7" fill="#2aa7df" stroke="#0c3554" stroke-width="0.9"/>
<rect x="330.4" y="364" width="16.5" height="9.8" fill="#2aa7df" stroke="#0c3554" stroke-width="0.9"/>
<rect x="346.9" y="354.3" width="16.5" height="9.7" fill="#2aa7df" stroke="#0c3554" stroke-width="0.9"/>
<rect x="346.9" y="364" width="16.5" height="9.8" fill="#2aa7df" stroke="#0c3554" stroke-width="0.9"/>
<rect x="363.4" y="354.3" width="16.5" height="9.7" fill="#2aa7df" stroke="#0c3554" stroke-width="0.9"/>
<rect x="363.4" y="364" width="16.5" height="9.8" fill="#2aa7df" stroke="#0c3554" stroke-width="0.9"/>
<rect x="379.9" y="354.3" width="16.5" height="9.7" fill="#2aa7df" stroke="#0c3554" stroke-width="0.9"/>
<rect x="379.9" y="364" width="16.5" height="9.8" fill="#2aa7df" stroke="#0c3554" stroke-width="0.9"/>
<rect x="396.4" y="354.3" width="16.5" height="9.7" fill="#2aa7df" stroke="#0c3554" stroke-width="0.9"/>
<rect x="396.4" y="364" width="16.5" height="9.8" fill="#2aa7df" stroke="#0c3554" stroke-width="0.9"/>
<rect x="412.9" y="354.3" width="16.5" height="9.7" fill="#ffffff" stroke="#0c3554" stroke-width="0.9"/>
<rect x="412.9" y="364" width="16.5" height="9.8" fill="#2aa7df" stroke="#0c3554" stroke-width="0.9"/>
<rect x="429.4" y="354.3" width="16.5" height="9.7" fill="#ffffff" stroke="#0c3554" stroke-width="0.9"/>
<rect x="429.4" y="364" width="16.5" height="9.8" fill="#2aa7df" stroke="#0c3554" stroke-width="0.9"/>
<rect x="445.9" y="354.3" width="16.5" height="9.7" fill="#ffffff" stroke="#0c3554" stroke-width="0.9"/>
<rect x="445.9" y="364" width="16.5" height="9.8" fill="#2aa7df" stroke="#0c3554" stroke-width="0.9"/>
<rect x="297.4" y="354.3" width="165" height="19.5" fill="none" stroke="#0c3554" stroke-width="1.1"/>
<rect x="379.9" y="354.3" width="16.5" height="9.7" fill="none" stroke="#1a1a1a" stroke-width="1"/>
<rect x="379.9" y="364" width="16.5" height="9.8" fill="none" stroke="#1a1a1a" stroke-width="1"/>
<rect x="396.4" y="354.3" width="16.5" height="9.7" fill="none" stroke="#1a1a1a" stroke-width="1"/>
<rect x="396.4" y="364" width="16.5" height="9.8" fill="none" stroke="#1a1a1a" stroke-width="1"/>
<rect x="412.9" y="354.3" width="16.5" height="9.7" fill="none" stroke="#1a1a1a" stroke-width="1"/>
<rect x="412.9" y="364" width="16.5" height="9.8" fill="none" stroke="#1a1a1a" stroke-width="1"/>
<line x1="258" y1="376.9" x2="462" y2="376.9" stroke="#bdbdbd" stroke-width="1.6"/>
<text x="360.2" y="387" font-size="7.4" text-anchor="middle" fill="#231f20" stroke="#231f20" stroke-width="0.07" textLength="119.5" lengthAdjust="spacingAndGlyphs">Site-specific copy number call/patient</text>
<rect x="468.5" y="355.4" width="6.5" height="6.3" fill="#2aa7df" stroke="#0c3554" stroke-width="0.9"/>
<rect x="468.5" y="366.2" width="6.5" height="6.4" fill="#fff" stroke="#333" stroke-width="0.9"/>
<text x="478" y="361" font-size="7.4" fill="#231f20" stroke="#231f20" stroke-width="0.07" textLength="23.5" lengthAdjust="spacingAndGlyphs">CN loss</text>
<text x="478" y="371.8" font-size="7.4" fill="#231f20" stroke="#231f20" stroke-width="0.07" textLength="34.6" lengthAdjust="spacingAndGlyphs">CN normal</text>
<text x="7.9" y="418" font-size="12.5" font-weight="bold" fill="#111">E</text>
<circle cx="42.25" cy="424.3" r="8" fill="#c4e7d0" stroke="#a3d3b5" stroke-width="0.7"/>
<circle cx="42.25" cy="424.3" r="6.3" fill="#b3e0c3"/>
<circle cx="42.25" cy="424.3" r="4.9" fill="#6dbf8f"/>
<line x1="59" y1="425.2" x2="71" y2="425.2" stroke="#222" stroke-width="1.3"/>
<polygon points="75,425.2 71,427.4 71,423" fill="#222"/>
<text x="42.6" y="441.3" font-size="7.6" text-anchor="middle" font-weight="bold" fill="#231f20" stroke="#231f20" stroke-width="0.07" textLength="23" lengthAdjust="spacingAndGlyphs">PF-382</text>
<text x="42.6" y="450.2" font-size="7.6" text-anchor="middle" fill="#231f20" textLength="44.8" lengthAdjust="spacingAndGlyphs"><tspan font-style="italic">FTO</tspan> wild type</text>
<text x="42.3" y="458.2" font-size="7.6" text-anchor="middle" fill="#231f20" stroke="#231f20" stroke-width="0.07" textLength="42.5" lengthAdjust="spacingAndGlyphs">IRX3 negative</text>
<path d="M88.4 426.6 q1.4 -1.3 2.8 0 t2.8 0 t2.8 0 t2.8 0" fill="none" stroke="#35598a" stroke-width="0.8"/>
<path d="M121.8 426.0 q1.4 -1.3 2.8 0 t2.8 0 t2.8 0 t2.6 -0.4" fill="none" stroke="#35598a" stroke-width="0.8"/>
<defs><linearGradient id="pk" x1="0" y1="0" x2="1" y2="0"><stop offset="0" stop-color="#f7d9d2" stop-opacity="0.2"/><stop offset="0.3" stop-color="#f3c3bb"/><stop offset="0.8" stop-color="#f1c0b5"/><stop offset="1" stop-color="#f7d9d2" stop-opacity="0.2"/></linearGradient></defs>
<rect x="106" y="416.4" width="18.4" height="3.4" fill="url(#pk)"/>
<path d="M99.4 426.2 Q 110.5 417.6 122.5 426.0 Q 110.5 434.0 99.4 426.2 Z" fill="#e4eef8" stroke="#9fc3e2" stroke-width="0.8"/>
<path d="M103 426.2 Q 110.5 421 118.5 426.0 Q 110.5 430.6 103 426.2 Z" fill="#d3e5f4"/>
<ellipse cx="115.8" cy="413.1" rx="4.8" ry="2.5" fill="#ececec" stroke="#c4c4c4" stroke-width="0.5"/>
<line x1="112" y1="412.2" x2="119.5" y2="412.2" stroke="#cfcfcf" stroke-width="0.5"/>
<line x1="111.6" y1="414" x2="119.8" y2="414" stroke="#cfcfcf" stroke-width="0.5"/>
<text x="108.6" y="444.2" font-size="7.6" text-anchor="middle" fill="#231f20" stroke="#231f20" stroke-width="0.07" textLength="43" lengthAdjust="spacingAndGlyphs">CRISPR/Cas9</text>
<text x="108" y="452.8" font-size="7.6" text-anchor="middle" fill="#231f20" stroke="#231f20" stroke-width="0.07" textLength="36.6" lengthAdjust="spacingAndGlyphs">targeting of</text>
<text x="108.8" y="461.4" font-size="7.6" text-anchor="middle" fill="#231f20" stroke="#231f20" stroke-width="0.07" textLength="64.4" lengthAdjust="spacingAndGlyphs">CTCF and MYB sites</text>
<text x="80.4" y="474.7" font-size="5.8" text-anchor="end" fill="#555" stroke="#555" stroke-width="0.07" textLength="12.2" lengthAdjust="spacingAndGlyphs">CTCF</text>
<text x="81.4" y="474.7" font-size="5.8" font-style="italic" fill="#555" stroke="#555" stroke-width="0.07" textLength="10.8" lengthAdjust="spacingAndGlyphs">motif</text>
<rect x="56.3" y="476.6" width="46" height="6" fill="#f8d2d2"/>
<text x="19.2" y="482" font-size="4.3" font-weight="bold" fill="#222" stroke="#222" stroke-width="0.07" textLength="37" lengthAdjust="spacingAndGlyphs">GTGTGTGTGCACACACA</text>
<text x="56.3" y="482" font-size="4.3" font-weight="bold" fill="#c8202e" stroke="#c8202e" stroke-width="0.07" textLength="45.4" lengthAdjust="spacingAndGlyphs">TGTGCCCCCTGAGGGG</text>
<text x="101.7" y="482" font-size="4.3" font-weight="bold" fill="#222" stroke="#222" stroke-width="0.07" textLength="19.1" lengthAdjust="spacingAndGlyphs">TGTGCGGG</text>
<line x1="35" y1="483.3" x2="84.8" y2="483.3" stroke="#3b6fb0" stroke-width="0.9"/>
<text x="61.4" y="488.9" font-size="6" text-anchor="middle" fill="#555" stroke="#555" stroke-width="0.07" textLength="14.2" lengthAdjust="spacingAndGlyphs">sgRNA</text>
<text x="44.6" y="497.8" font-size="5.8" text-anchor="end" fill="#c8505e" stroke="#c8505e" stroke-width="0.07" textLength="10.4" lengthAdjust="spacingAndGlyphs">MYB</text>
<text x="45.6" y="497.8" font-size="5.8" font-style="italic" fill="#c8505e" stroke="#c8505e" stroke-width="0.07" textLength="10.6" lengthAdjust="spacingAndGlyphs">motif</text>
<rect x="37.5" y="499.4" width="16.6" height="5.8" fill="#f8d2d2"/>
<text x="19.2" y="504.8" font-size="4.3" font-weight="bold" fill="#222" stroke="#222" stroke-width="0.07" textLength="18.1" lengthAdjust="spacingAndGlyphs">AAAGTTT</text>
<text x="37.6" y="504.8" font-size="4.3" font-weight="bold" fill="#c8202e" stroke="#c8202e" stroke-width="0.07" textLength="16" lengthAdjust="spacingAndGlyphs">CCAACTG</text>
<text x="54.1" y="504.8" font-size="4.3" font-weight="bold" fill="#222" stroke="#222" stroke-width="0.07" textLength="68.8" lengthAdjust="spacingAndGlyphs">AAATCGCACCACAAGCAGTTGGTTAT</text>
<line x1="52" y1="506.3" x2="106" y2="506.3" stroke="#3b6fb0" stroke-width="0.9"/>
<text x="79.7" y="512" font-size="6" text-anchor="middle" fill="#555" stroke="#555" stroke-width="0.07" textLength="14.2" lengthAdjust="spacingAndGlyphs">sgRNA</text>
<line x1="46.2" y1="513.3" x2="46.2" y2="520.6" stroke="#222" stroke-width="1.2"/>
<polygon points="46.2,524.2 44.22,520.6 48.18,520.6" fill="#222"/>
<rect x="27.2" y="528.5" width="15.4" height="18.1" fill="#8c9fb6"/>
<rect x="27.2" y="528.5" width="15.4" height="1.1" fill="#a5b4c6"/>
<rect x="42.6" y="526.9" width="21.2" height="19.7" fill="#f0ede7"/>
<rect x="42.6" y="526.9" width="21.2" height="1.5" fill="#e2ddd4"/>
<rect x="60.5" y="528.4" width="3.3" height="18.2" fill="#e4e0d8"/>
<circle cx="41.6" cy="538" r="0.9" fill="#3b4656"/>
<path d="M44 536 L46 533 L47.5 538 L49 535 L50.5 541 L52 537 L53.5 543" fill="none" stroke="#8f8a84" stroke-width="0.7"/>
<path d="M52.5 531 L53.2 546 M55.5 530 L55.5 545 M58.2 532 L58.2 546" fill="none" stroke="#b7b1a8" stroke-width="0.7"/>
<rect x="45" y="541.5" width="7" height="4.3" fill="#dcd7cf"/>
<rect x="54.5" y="538" width="3.5" height="4.5" fill="#c9c3b9"/>
<circle cx="58.5" cy="544.5" r="0.8" fill="#8a8580"/>
<line x1="27.2" y1="546.9" x2="63.8" y2="546.9" stroke="#d0d0d0" stroke-width="0.6"/>
<line x1="69.2" y1="538.2" x2="75.4" y2="538.2" stroke="#222" stroke-width="1.2"/>
<polygon points="79,538.2 75.4,540.18 75.4,536.22" fill="#222"/>
<line x1="85.4" y1="524.3" x2="85.4" y2="547" stroke="#666" stroke-width="0.7"/>
<line x1="85.4" y1="546.4" x2="115.3" y2="546.4" stroke="#b0b0b0" stroke-width="1.8"/>
<line x1="86" y1="540.8" x2="115.3" y2="540.8" stroke="#cfcfcf" stroke-width="0.6"/>
<path d="M87.4 546 C 96 546, 97 545, 99.5 536 C 102 527, 104 526.3, 115.3 525.4" fill="none" stroke="#6aa86a" stroke-width="0.9"/>
<text x="47.1" y="557.8" font-size="7.6" text-anchor="middle" fill="#231f20" stroke="#231f20" stroke-width="0.07" textLength="31.8" lengthAdjust="spacingAndGlyphs">single cell</text>
<text x="46.2" y="566.9" font-size="7.6" text-anchor="middle" fill="#231f20" stroke="#231f20" stroke-width="0.07" textLength="50.7" lengthAdjust="spacingAndGlyphs">sorting by FACS</text>
<text x="101" y="557.8" font-size="7.6" text-anchor="middle" fill="#231f20" stroke="#231f20" stroke-width="0.07" textLength="17.3" lengthAdjust="spacingAndGlyphs">qPCR</text>
<text x="101.3" y="566.9" font-size="7.6" text-anchor="middle" fill="#231f20" stroke="#231f20" stroke-width="0.07" textLength="48" lengthAdjust="spacingAndGlyphs">for IRX3 mRNA</text>
<text x="159.1" y="417.7" font-size="12.5" font-weight="bold" fill="#111">F</text>
<line x1="194.4" y1="423.5" x2="194.4" y2="518.3" stroke="#231f20" stroke-width="1.4"/>
<line x1="193.8" y1="517.7" x2="379.2" y2="517.7" stroke="#231f20" stroke-width="1.4"/>
<line x1="191.2" y1="517.7" x2="194.4" y2="517.7" stroke="#231f20" stroke-width="1.1"/>
<text x="188" y="520.2" font-size="7.2" text-anchor="end" fill="#231f20" stroke="#231f20" stroke-width="0.07">0</text>
<line x1="191.2" y1="502.3" x2="194.4" y2="502.3" stroke="#231f20" stroke-width="1.1"/>
<text x="188" y="504.8" font-size="7.2" text-anchor="end" fill="#231f20" stroke="#231f20" stroke-width="0.07">2</text>
<line x1="191.2" y1="486.9" x2="194.4" y2="486.9" stroke="#231f20" stroke-width="1.1"/>
<text x="188" y="489.4" font-size="7.2" text-anchor="end" fill="#231f20" stroke="#231f20" stroke-width="0.07">4</text>
<line x1="191.2" y1="471.5" x2="194.4" y2="471.5" stroke="#231f20" stroke-width="1.1"/>
<text x="188" y="474" font-size="7.2" text-anchor="end" fill="#231f20" stroke="#231f20" stroke-width="0.07">6</text>
<line x1="191.2" y1="456.1" x2="194.4" y2="456.1" stroke="#231f20" stroke-width="1.1"/>
<text x="188" y="458.6" font-size="7.2" text-anchor="end" fill="#231f20" stroke="#231f20" stroke-width="0.07">8</text>
<line x1="191.2" y1="440.7" x2="194.4" y2="440.7" stroke="#231f20" stroke-width="1.1"/>
<text x="188" y="443.2" font-size="7.2" text-anchor="end" fill="#231f20" stroke="#231f20" stroke-width="0.07">10</text>
<line x1="191.2" y1="425.3" x2="194.4" y2="425.3" stroke="#231f20" stroke-width="1.1"/>
<text x="188" y="427.8" font-size="7.2" text-anchor="end" fill="#231f20" stroke="#231f20" stroke-width="0.07">12</text>
<text x="174.4" y="467.75" font-size="8.6" text-anchor="middle" fill="#231f20" transform="rotate(-90 174.4 467.75)" textLength="94.3" lengthAdjust="spacingAndGlyphs"><tspan font-style="italic">IRX3</tspan> expression (fold change)</text>
<rect x="196.6" y="511.16" width="5" height="6.05" fill="#1b4a7a"/>
<line x1="199.1" y1="511.16" x2="199.1" y2="509.23" stroke="#333" stroke-width="0.6"/>
<line x1="197.8" y1="509.23" x2="200.4" y2="509.23" stroke="#333" stroke-width="0.6"/>
<line x1="199.1" y1="517.7" x2="199.1" y2="519.9" stroke="#231f20" stroke-width="0.9"/>
<text x="202.3" y="524" font-size="7.4" text-anchor="end" fill="#231f20" stroke="#231f20" stroke-width="0.07" transform="rotate(-90 202.3 524)">PF-382</text>
<circle cx="198.3" cy="510.5" r="1" fill="#fff" stroke="#555" stroke-width="0.5"/>
<circle cx="199.9" cy="513" r="1" fill="#fff" stroke="#555" stroke-width="0.5"/>
<circle cx="199.1" cy="515" r="1" fill="#fff" stroke="#555" stroke-width="0.5"/>
<rect x="204.1" y="454.56" width="5" height="62.64" fill="#ee9207"/>
<line x1="206.6" y1="454.56" x2="206.6" y2="446.09" stroke="#333" stroke-width="0.6"/>
<line x1="205.3" y1="446.09" x2="207.9" y2="446.09" stroke="#333" stroke-width="0.6"/>
<line x1="206.6" y1="517.7" x2="206.6" y2="519.9" stroke="#231f20" stroke-width="0.9"/>
<text x="209.8" y="524" font-size="7.4" text-anchor="end" fill="#231f20" stroke="#231f20" stroke-width="0.07" transform="rotate(-90 209.8 524)">ALL-SIL</text>
<circle cx="205.8" cy="447.5" r="1" fill="#fff" stroke="#555" stroke-width="0.5"/>
<circle cx="207.4" cy="449.5" r="1" fill="#fff" stroke="#555" stroke-width="0.5"/>
<circle cx="206.6" cy="451.5" r="1" fill="#fff" stroke="#555" stroke-width="0.5"/>
<circle cx="206.1" cy="453" r="1" fill="#fff" stroke="#555" stroke-width="0.5"/>
<circle cx="207.2" cy="455" r="1" fill="#fff" stroke="#555" stroke-width="0.5"/>
<rect x="217.1" y="515.78" width="5" height="1.42" fill="#1b4a7a"/>
<line x1="219.6" y1="515.78" x2="219.6" y2="515" stroke="#333" stroke-width="0.6"/>
<line x1="218.3" y1="515" x2="220.9" y2="515" stroke="#333" stroke-width="0.6"/>
<line x1="219.6" y1="517.7" x2="219.6" y2="519.9" stroke="#231f20" stroke-width="0.9"/>
<text x="222.8" y="524" font-size="7.4" text-anchor="end" fill="#231f20" stroke="#231f20" stroke-width="0.07" transform="rotate(-90 222.8 524)">wt 1</text>
<circle cx="218.8" cy="515.5" r="1" fill="#fff" stroke="#555" stroke-width="0.5"/>
<rect x="224.5" y="513.08" width="5" height="4.12" fill="#1b4a7a"/>
<line x1="227" y1="513.08" x2="227" y2="512.31" stroke="#333" stroke-width="0.6"/>
<line x1="225.7" y1="512.31" x2="228.3" y2="512.31" stroke="#333" stroke-width="0.6"/>
<line x1="227" y1="517.7" x2="227" y2="519.9" stroke="#231f20" stroke-width="0.9"/>
<text x="230.2" y="524" font-size="7.4" text-anchor="end" fill="#231f20" stroke="#231f20" stroke-width="0.07" transform="rotate(-90 230.2 524)">wt 2</text>
<circle cx="226.2" cy="512.5" r="1" fill="#fff" stroke="#555" stroke-width="0.5"/>
<circle cx="227.8" cy="514" r="1" fill="#fff" stroke="#555" stroke-width="0.5"/>
<rect x="231.9" y="510.39" width="5" height="6.81" fill="#1b4a7a"/>
<line x1="234.4" y1="510.39" x2="234.4" y2="506.92" stroke="#333" stroke-width="0.6"/>
<line x1="233.1" y1="506.92" x2="235.7" y2="506.92" stroke="#333" stroke-width="0.6"/>
<line x1="234.4" y1="517.7" x2="234.4" y2="519.9" stroke="#231f20" stroke-width="0.9"/>
<text x="237.6" y="524" font-size="7.4" text-anchor="end" fill="#231f20" stroke="#231f20" stroke-width="0.07" transform="rotate(-90 237.6 524)">wt 3</text>
<circle cx="233.6" cy="507" r="1" fill="#fff" stroke="#555" stroke-width="0.5"/>
<circle cx="235.2" cy="511" r="1" fill="#fff" stroke="#555" stroke-width="0.5"/>
<circle cx="234.4" cy="513.5" r="1" fill="#fff" stroke="#555" stroke-width="0.5"/>
<rect x="245" y="444.55" width="5" height="72.65" fill="#cc0a2e"/>
<line x1="247.5" y1="444.55" x2="247.5" y2="433" stroke="#333" stroke-width="0.6"/>
<line x1="246.2" y1="433" x2="248.8" y2="433" stroke="#333" stroke-width="0.6"/>
<line x1="247.5" y1="517.7" x2="247.5" y2="519.9" stroke="#231f20" stroke-width="0.9"/>
<text x="250.7" y="524" font-size="7.4" text-anchor="end" fill="#231f20" stroke="#231f20" stroke-width="0.07" transform="rotate(-90 250.7 524)">mut 1</text>
<circle cx="246.7" cy="427" r="1" fill="#fff" stroke="#555" stroke-width="0.5"/>
<circle cx="248.3" cy="430" r="1" fill="#fff" stroke="#555" stroke-width="0.5"/>
<circle cx="247.5" cy="437" r="1" fill="#fff" stroke="#555" stroke-width="0.5"/>
<circle cx="247" cy="465" r="1" fill="#fff" stroke="#555" stroke-width="0.5"/>
<rect x="252.8" y="444.55" width="5" height="72.65" fill="#cc0a2e"/>
<line x1="255.3" y1="444.55" x2="255.3" y2="434.54" stroke="#333" stroke-width="0.6"/>
<line x1="254" y1="434.54" x2="256.6" y2="434.54" stroke="#333" stroke-width="0.6"/>
<line x1="255.3" y1="517.7" x2="255.3" y2="519.9" stroke="#231f20" stroke-width="0.9"/>
<text x="258.5" y="524" font-size="7.4" text-anchor="end" fill="#231f20" stroke="#231f20" stroke-width="0.07" transform="rotate(-90 258.5 524)">mut 2</text>
<circle cx="254.5" cy="430" r="1" fill="#fff" stroke="#555" stroke-width="0.5"/>
<circle cx="256.1" cy="438" r="1" fill="#fff" stroke="#555" stroke-width="0.5"/>
<circle cx="255.3" cy="442" r="1" fill="#fff" stroke="#555" stroke-width="0.5"/>
<circle cx="254.8" cy="455" r="1" fill="#fff" stroke="#555" stroke-width="0.5"/>
<rect x="260.3" y="465.34" width="5" height="51.86" fill="#cc0a2e"/>
<line x1="262.8" y1="465.34" x2="262.8" y2="458.41" stroke="#333" stroke-width="0.6"/>
<line x1="261.5" y1="458.41" x2="264.1" y2="458.41" stroke="#333" stroke-width="0.6"/>
<line x1="262.8" y1="517.7" x2="262.8" y2="519.9" stroke="#231f20" stroke-width="0.9"/>
<text x="266" y="524" font-size="7.4" text-anchor="end" fill="#231f20" stroke="#231f20" stroke-width="0.07" transform="rotate(-90 266 524)">mut 3</text>
<circle cx="262" cy="452" r="1" fill="#fff" stroke="#555" stroke-width="0.5"/>
<circle cx="263.6" cy="459" r="1" fill="#fff" stroke="#555" stroke-width="0.5"/>
<circle cx="262.8" cy="465" r="1" fill="#fff" stroke="#555" stroke-width="0.5"/>
<circle cx="262.3" cy="472" r="1" fill="#fff" stroke="#555" stroke-width="0.5"/>
<rect x="273.2" y="515.39" width="5" height="1.81" fill="#1b4a7a"/>
<line x1="275.7" y1="515.39" x2="275.7" y2="515" stroke="#333" stroke-width="0.6"/>
<line x1="274.4" y1="515" x2="277" y2="515" stroke="#333" stroke-width="0.6"/>
<line x1="275.7" y1="517.7" x2="275.7" y2="519.9" stroke="#231f20" stroke-width="0.9"/>
<text x="278.9" y="524" font-size="7.4" text-anchor="end" fill="#231f20" stroke="#231f20" stroke-width="0.07" transform="rotate(-90 278.9 524)">wt 1</text>
<circle cx="274.9" cy="515" r="1" fill="#fff" stroke="#555" stroke-width="0.5"/>
<rect x="280.6" y="515.39" width="5" height="1.81" fill="#1b4a7a"/>
<line x1="283.1" y1="515.39" x2="283.1" y2="515" stroke="#333" stroke-width="0.6"/>
<line x1="281.8" y1="515" x2="284.4" y2="515" stroke="#333" stroke-width="0.6"/>
<line x1="283.1" y1="517.7" x2="283.1" y2="519.9" stroke="#231f20" stroke-width="0.9"/>
<text x="286.3" y="524" font-size="7.4" text-anchor="end" fill="#231f20" stroke="#231f20" stroke-width="0.07" transform="rotate(-90 286.3 524)">wt 2</text>
<circle cx="282.3" cy="515" r="1" fill="#fff" stroke="#555" stroke-width="0.5"/>
<rect x="288.3" y="516.16" width="5" height="1.04" fill="#1b4a7a"/>
<line x1="290.8" y1="516.16" x2="290.8" y2="515.39" stroke="#333" stroke-width="0.6"/>
<line x1="289.5" y1="515.39" x2="292.1" y2="515.39" stroke="#333" stroke-width="0.6"/>
<line x1="290.8" y1="517.7" x2="290.8" y2="519.9" stroke="#231f20" stroke-width="0.9"/>
<text x="294" y="524" font-size="7.4" text-anchor="end" fill="#231f20" stroke="#231f20" stroke-width="0.07" transform="rotate(-90 294 524)">wt 3</text>
<circle cx="290" cy="515.5" r="1" fill="#fff" stroke="#555" stroke-width="0.5"/>
<rect x="301" y="453.02" width="5" height="64.18" fill="#cc0a2e"/>
<line x1="303.5" y1="453.02" x2="303.5" y2="439.16" stroke="#333" stroke-width="0.6"/>
<line x1="302.2" y1="439.16" x2="304.8" y2="439.16" stroke="#333" stroke-width="0.6"/>
<line x1="303.5" y1="517.7" x2="303.5" y2="519.9" stroke="#231f20" stroke-width="0.9"/>
<text x="306.7" y="524" font-size="7.4" text-anchor="end" fill="#231f20" stroke="#231f20" stroke-width="0.07" transform="rotate(-90 306.7 524)">mut 1</text>
<circle cx="302.7" cy="428" r="1" fill="#fff" stroke="#555" stroke-width="0.5"/>
<circle cx="304.3" cy="445" r="1" fill="#fff" stroke="#555" stroke-width="0.5"/>
<circle cx="303.5" cy="455" r="1" fill="#fff" stroke="#555" stroke-width="0.5"/>
<circle cx="303" cy="470" r="1" fill="#fff" stroke="#555" stroke-width="0.5"/>
<rect x="308.5" y="470.73" width="5" height="46.47" fill="#cc0a2e"/>
<line x1="311" y1="470.73" x2="311" y2="459.95" stroke="#333" stroke-width="0.6"/>
<line x1="309.7" y1="459.95" x2="312.3" y2="459.95" stroke="#333" stroke-width="0.6"/>
<line x1="311" y1="517.7" x2="311" y2="519.9" stroke="#231f20" stroke-width="0.9"/>
<text x="314.2" y="524" font-size="7.4" text-anchor="end" fill="#231f20" stroke="#231f20" stroke-width="0.07" transform="rotate(-90 314.2 524)">mut 2</text>
<circle cx="310.2" cy="452" r="1" fill="#fff" stroke="#555" stroke-width="0.5"/>
<circle cx="311.8" cy="465" r="1" fill="#fff" stroke="#555" stroke-width="0.5"/>
<circle cx="311" cy="476" r="1" fill="#fff" stroke="#555" stroke-width="0.5"/>
<rect x="316.1" y="486.13" width="5" height="31.07" fill="#cc0a2e"/>
<line x1="318.6" y1="486.13" x2="318.6" y2="482.28" stroke="#333" stroke-width="0.6"/>
<line x1="317.3" y1="482.28" x2="319.9" y2="482.28" stroke="#333" stroke-width="0.6"/>
<line x1="318.6" y1="517.7" x2="318.6" y2="519.9" stroke="#231f20" stroke-width="0.9"/>
<text x="321.8" y="524" font-size="7.4" text-anchor="end" fill="#231f20" stroke="#231f20" stroke-width="0.07" transform="rotate(-90 321.8 524)">mut 3</text>
<circle cx="317.8" cy="478" r="1" fill="#fff" stroke="#555" stroke-width="0.5"/>
<circle cx="319.4" cy="481" r="1" fill="#fff" stroke="#555" stroke-width="0.5"/>
<circle cx="318.6" cy="485" r="1" fill="#fff" stroke="#555" stroke-width="0.5"/>
<line x1="331.6" y1="517.7" x2="331.6" y2="519.9" stroke="#231f20" stroke-width="0.9"/>
<text x="334.8" y="524" font-size="7.4" text-anchor="end" fill="#231f20" stroke="#231f20" stroke-width="0.07" transform="rotate(-90 334.8 524)">wt 1</text>
<circle cx="330.8" cy="516.4" r="1" fill="#fff" stroke="#555" stroke-width="0.5"/>
<line x1="339" y1="517.7" x2="339" y2="519.9" stroke="#231f20" stroke-width="0.9"/>
<text x="342.2" y="524" font-size="7.4" text-anchor="end" fill="#231f20" stroke="#231f20" stroke-width="0.07" transform="rotate(-90 342.2 524)">wt 2</text>
<circle cx="338.2" cy="516.4" r="1" fill="#fff" stroke="#555" stroke-width="0.5"/>
<line x1="346.3" y1="517.7" x2="346.3" y2="519.9" stroke="#231f20" stroke-width="0.9"/>
<text x="349.5" y="524" font-size="7.4" text-anchor="end" fill="#231f20" stroke="#231f20" stroke-width="0.07" transform="rotate(-90 349.5 524)">wt 3</text>
<circle cx="345.5" cy="516.4" r="1" fill="#fff" stroke="#555" stroke-width="0.5"/>
<rect x="357.3" y="515.78" width="5" height="1.42" fill="#1b4a7a"/>
<line x1="359.8" y1="515.78" x2="359.8" y2="514.62" stroke="#333" stroke-width="0.6"/>
<line x1="358.5" y1="514.62" x2="361.1" y2="514.62" stroke="#333" stroke-width="0.6"/>
<line x1="359.8" y1="517.7" x2="359.8" y2="519.9" stroke="#231f20" stroke-width="0.9"/>
<text x="363" y="524" font-size="7.4" text-anchor="end" fill="#231f20" stroke="#231f20" stroke-width="0.07" transform="rotate(-90 363 524)">mut 1</text>
<circle cx="359" cy="514.5" r="1" fill="#fff" stroke="#555" stroke-width="0.5"/>
<circle cx="360.6" cy="516.2" r="1" fill="#fff" stroke="#555" stroke-width="0.5"/>
<line x1="367.1" y1="517.7" x2="367.1" y2="519.9" stroke="#231f20" stroke-width="0.9"/>
<text x="370.3" y="524" font-size="7.4" text-anchor="end" fill="#231f20" stroke="#231f20" stroke-width="0.07" transform="rotate(-90 370.3 524)">mut 2</text>
<circle cx="366.3" cy="516.4" r="1" fill="#fff" stroke="#555" stroke-width="0.5"/>
<line x1="374.4" y1="517.7" x2="374.4" y2="519.9" stroke="#231f20" stroke-width="0.9"/>
<text x="377.6" y="524" font-size="7.4" text-anchor="end" fill="#231f20" stroke="#231f20" stroke-width="0.07" transform="rotate(-90 377.6 524)">mut 3</text>
<circle cx="373.6" cy="516.4" r="1" fill="#fff" stroke="#555" stroke-width="0.5"/>
<text x="179.4" y="559.6" font-size="7.4" fill="#231f20" stroke="#231f20" stroke-width="0.07" textLength="22.5" lengthAdjust="spacingAndGlyphs">sgRNA</text>
<polygon points="205.2,554.4 205.2,559.8 210,557.1" fill="#111"/>
<line x1="218" y1="551.5" x2="265.4" y2="551.5" stroke="#333" stroke-width="1.2"/>
<text x="241.8" y="561.6" font-size="7.4" text-anchor="middle" fill="#231f20" stroke="#231f20" stroke-width="0.07">MYB+CTCF</text>
<text x="241.8" y="569.2" font-size="7.4" text-anchor="middle" fill="#231f20" stroke="#231f20" stroke-width="0.07">sites</text>
<line x1="275.3" y1="551.5" x2="323.1" y2="551.5" stroke="#333" stroke-width="1.2"/>
<text x="299.2" y="561.6" font-size="7.4" text-anchor="middle" fill="#231f20" stroke="#231f20" stroke-width="0.07">CTCF</text>
<text x="299.2" y="569.2" font-size="7.4" text-anchor="middle" fill="#231f20" stroke="#231f20" stroke-width="0.07">site</text>
<line x1="329.9" y1="551.5" x2="378.3" y2="551.5" stroke="#333" stroke-width="1.2"/>
<text x="354.1" y="561.6" font-size="7.4" text-anchor="middle" fill="#231f20" stroke="#231f20" stroke-width="0.07">MYB</text>
<text x="354.1" y="569.2" font-size="7.4" text-anchor="middle" fill="#231f20" stroke="#231f20" stroke-width="0.07">site</text>
<text x="399.5" y="417.8" font-size="12.5" font-weight="bold" fill="#111">G</text>
<line x1="436.25" y1="423.8" x2="436.25" y2="518.6" stroke="#231f20" stroke-width="1.4"/>
<line x1="435.65" y1="518" x2="498.8" y2="518" stroke="#231f20" stroke-width="1.4"/>
<line x1="433.05" y1="518" x2="436.25" y2="518" stroke="#231f20" stroke-width="1.1"/>
<text x="430.2" y="520.5" font-size="7.2" text-anchor="end" fill="#231f20" stroke="#231f20" stroke-width="0.07">0</text>
<line x1="433.05" y1="502.58" x2="436.25" y2="502.58" stroke="#231f20" stroke-width="1.1"/>
<text x="430.2" y="505.08" font-size="7.2" text-anchor="end" fill="#231f20" stroke="#231f20" stroke-width="0.07">2</text>
<line x1="433.05" y1="487.16" x2="436.25" y2="487.16" stroke="#231f20" stroke-width="1.1"/>
<text x="430.2" y="489.66" font-size="7.2" text-anchor="end" fill="#231f20" stroke="#231f20" stroke-width="0.07">4</text>
<line x1="433.05" y1="471.74" x2="436.25" y2="471.74" stroke="#231f20" stroke-width="1.1"/>
<text x="430.2" y="474.24" font-size="7.2" text-anchor="end" fill="#231f20" stroke="#231f20" stroke-width="0.07">6</text>
<line x1="433.05" y1="456.32" x2="436.25" y2="456.32" stroke="#231f20" stroke-width="1.1"/>
<text x="430.2" y="458.82" font-size="7.2" text-anchor="end" fill="#231f20" stroke="#231f20" stroke-width="0.07">8</text>
<line x1="433.05" y1="440.9" x2="436.25" y2="440.9" stroke="#231f20" stroke-width="1.1"/>
<text x="430.2" y="443.4" font-size="7.2" text-anchor="end" fill="#231f20" stroke="#231f20" stroke-width="0.07">10</text>
<line x1="433.05" y1="425.48" x2="436.25" y2="425.48" stroke="#231f20" stroke-width="1.1"/>
<text x="430.2" y="427.98" font-size="7.2" text-anchor="end" fill="#231f20" stroke="#231f20" stroke-width="0.07">12</text>
<text x="417.9" y="469.0" font-size="8.6" text-anchor="middle" fill="#231f20" transform="rotate(-90 417.9 469.0)" textLength="94.7" lengthAdjust="spacingAndGlyphs"><tspan font-style="italic">IRX3</tspan> expression (fold change)</text>
<rect x="445" y="510.5" width="17" height="7" fill="#1b4a7a"/>
<rect x="473.8" y="469.3" width="16.7" height="48.2" fill="#cc0a2e"/>
<line x1="453.5" y1="510.5" x2="453.5" y2="507.5" stroke="#333" stroke-width="0.6"/>
<line x1="451.5" y1="507.5" x2="455.5" y2="507.5" stroke="#333" stroke-width="0.6"/>
<line x1="482.2" y1="469.3" x2="482.2" y2="464.3" stroke="#333" stroke-width="0.6"/>
<line x1="478.2" y1="464.3" x2="486.2" y2="464.3" stroke="#333" stroke-width="0.6"/>
<circle cx="451.5" cy="505.4" r="1.15" fill="#fff" stroke="#444" stroke-width="0.55"/>
<circle cx="455.2" cy="504.4" r="1.15" fill="#fff" stroke="#444" stroke-width="0.55"/>
<circle cx="452.2" cy="507.6" r="1.15" fill="#fff" stroke="#444" stroke-width="0.55"/>
<circle cx="454.6" cy="509.4" r="1.15" fill="#fff" stroke="#444" stroke-width="0.55"/>
<circle cx="451" cy="511" r="1.15" fill="#fff" stroke="#444" stroke-width="0.55"/>
<circle cx="455.6" cy="511.2" r="1.15" fill="#fff" stroke="#444" stroke-width="0.55"/>
<circle cx="452.6" cy="513.4" r="1.15" fill="#fff" stroke="#444" stroke-width="0.55"/>
<circle cx="455" cy="514.8" r="1.15" fill="#fff" stroke="#444" stroke-width="0.55"/>
<circle cx="480.1" cy="449.9" r="1.15" fill="#fff" stroke="#555" stroke-width="0.55"/>
<circle cx="484.1" cy="449.2" r="1.15" fill="#fff" stroke="#555" stroke-width="0.55"/>
<circle cx="480.5" cy="463" r="1.15" fill="#fff" stroke="#555" stroke-width="0.55"/>
<circle cx="484" cy="463.5" r="1.15" fill="#fff" stroke="#555" stroke-width="0.55"/>
<circle cx="482" cy="470.4" r="1.15" fill="#f7c4cc" stroke="#8c1426" stroke-width="0.55"/>
<circle cx="482.5" cy="473.3" r="1.15" fill="#f7c4cc" stroke="#8c1426" stroke-width="0.55"/>
<circle cx="482" cy="479.1" r="1.15" fill="#f7c4cc" stroke="#8c1426" stroke-width="0.55"/>
<circle cx="482" cy="484.1" r="1.15" fill="#f7c4cc" stroke="#8c1426" stroke-width="0.55"/>
<circle cx="482" cy="492.2" r="1.15" fill="#f7c4cc" stroke="#8c1426" stroke-width="0.55"/>
<line x1="453.8" y1="441.3" x2="482.5" y2="441.3" stroke="#222" stroke-width="1.1"/>
<text x="468.2" y="441.6" font-size="7.4" text-anchor="middle" fill="#231f20" stroke="#231f20" stroke-width="0.07" textLength="13" lengthAdjust="spacingAndGlyphs">****</text>
<text x="453.2" y="530.8" font-size="7.6" text-anchor="middle" fill="#231f20" stroke="#231f20" stroke-width="0.07" textLength="23.8" lengthAdjust="spacingAndGlyphs">Control</text>
<text x="482" y="530.8" font-size="7.6" text-anchor="middle" fill="#231f20" stroke="#231f20" stroke-width="0.07" textLength="17.5" lengthAdjust="spacingAndGlyphs">CTCF</text>
<text x="467" y="544" font-size="8.2" text-anchor="middle" fill="#231f20" stroke="#231f20" stroke-width="0.07" textLength="21.3" lengthAdjust="spacingAndGlyphs">sgRNA</text>
<text x="8.1" y="598.8" font-size="12.5" font-weight="bold" fill="#111">H</text>
<text x="78.8" y="599.2" font-size="8.6" text-anchor="middle" fill="#231f20" stroke="#231f20" stroke-width="0.07" textLength="75" lengthAdjust="spacingAndGlyphs">St. Jude (n = 264)</text>
<line x1="48.9" y1="605.5" x2="48.9" y2="701.1" stroke="#231f20" stroke-width="1.4"/>
<line x1="48.3" y1="700.5" x2="107.5" y2="700.5" stroke="#231f20" stroke-width="1.4"/>
<line x1="45.7" y1="700.5" x2="48.9" y2="700.5" stroke="#231f20" stroke-width="1.1"/>
<text x="41.9" y="703.1" font-size="7.4" text-anchor="end" fill="#231f20" stroke="#231f20" stroke-width="0.07">0</text>
<line x1="45.7" y1="677.2" x2="48.9" y2="677.2" stroke="#231f20" stroke-width="1.1"/>
<text x="41.9" y="679.8" font-size="7.4" text-anchor="end" fill="#231f20" stroke="#231f20" stroke-width="0.07">10</text>
<line x1="45.7" y1="653.9" x2="48.9" y2="653.9" stroke="#231f20" stroke-width="1.1"/>
<text x="41.9" y="656.5" font-size="7.4" text-anchor="end" fill="#231f20" stroke="#231f20" stroke-width="0.07">20</text>
<line x1="45.7" y1="630.6" x2="48.9" y2="630.6" stroke="#231f20" stroke-width="1.1"/>
<text x="41.9" y="633.2" font-size="7.4" text-anchor="end" fill="#231f20" stroke="#231f20" stroke-width="0.07">30</text>
<line x1="45.7" y1="607.3" x2="48.9" y2="607.3" stroke="#231f20" stroke-width="1.1"/>
<text x="41.9" y="609.9" font-size="7.4" text-anchor="end" fill="#231f20" stroke="#231f20" stroke-width="0.07">40</text>
<text x="29.0" y="653.4" font-size="8.6" text-anchor="middle" fill="#231f20" transform="rotate(-90 29.0 653.4)" textLength="80.8" lengthAdjust="spacingAndGlyphs"><tspan font-style="italic">IRX3</tspan> expression (FPKM)</text>
<line x1="66" y1="612.2" x2="94.8" y2="612.2" stroke="#222" stroke-width="1.1"/>
<text x="80.3" y="612.6" font-size="7.4" text-anchor="middle" fill="#231f20" stroke="#231f20" stroke-width="0.07" textLength="9" lengthAdjust="spacingAndGlyphs">***</text>
<path d="M64.75 618.2 L64.7 660 L64.6 675 L64.35 682 L63.75 686.5 L63.15 690 L62.45 693 L60.85 695 L58.55 696.5 L55.55 698 L52.75 699.3 L52.25 700.3 L77.85 700.3 L77.35 699.3 L74.55 698 L71.55 696.5 L69.25 695 L67.65 693 L66.95 690 L66.35 686.5 L65.75 682 L65.5 675 L65.4 660 L65.35 618.2 Z" fill="#15375f" stroke="#15375f" stroke-width="0.2"/>
<rect x="63.9" y="692.9" width="2.2" height="6.5" fill="#fff"/>
<path d="M90.2 633.7 L90.2 636.5 L91.1 640.7 L91 645 L90.5 649 L90 654 L89.8 659 L89.1 664 L87.7 670 L85.3 675.7 L82.3 681.3 L80.8 687 L81.3 694 L82.7 700.3 L101.9 700.3 L103.3 694 L103.8 687 L102.3 681.3 L99.3 675.7 L96.9 670 L95.5 664 L94.8 659 L94.6 654 L94.1 649 L93.6 645 L93.5 640.7 L94.4 636.5 L94.4 633.7 Z" fill="#cc0a2e" stroke="#cc0a2e" stroke-width="0.2"/>
<rect x="91.2" y="676.4" width="2.2" height="16.9" fill="#fff"/>
<line x1="91.2" y1="684" x2="93.4" y2="684" stroke="#cc0a2e" stroke-width="0.5"/>
<text x="65.3" y="713.3" font-size="7.6" text-anchor="middle" fill="#231f20" stroke="#231f20" stroke-width="0.07" textLength="17.5" lengthAdjust="spacingAndGlyphs">CTCF</text>
<text x="65.3" y="722.6" font-size="7.6" text-anchor="middle" fill="#231f20" stroke="#231f20" stroke-width="0.07">wt</text>
<text x="92.2" y="713.3" font-size="7.6" text-anchor="middle" fill="#231f20" stroke="#231f20" stroke-width="0.07" textLength="17.5" lengthAdjust="spacingAndGlyphs">CTCF</text>
<text x="92.2" y="722.6" font-size="7.6" text-anchor="middle" fill="#231f20" stroke="#231f20" stroke-width="0.07" textLength="23.5" lengthAdjust="spacingAndGlyphs">mutant</text>
<text x="133.5" y="598.8" font-size="12.5" font-weight="bold" fill="#111">I</text>
<line x1="164.6" y1="605.8" x2="164.6" y2="701.2" stroke="#231f20" stroke-width="1.4"/>
<line x1="164" y1="700.6" x2="410.5" y2="700.6" stroke="#231f20" stroke-width="1.4"/>
<line x1="161.4" y1="700.6" x2="164.6" y2="700.6" stroke="#231f20" stroke-width="1.1"/>
<text x="157.7" y="703.2" font-size="7.4" text-anchor="end" fill="#231f20" stroke="#231f20" stroke-width="0.07">0</text>
<line x1="161.4" y1="654.64" x2="164.6" y2="654.64" stroke="#231f20" stroke-width="1.1"/>
<text x="157.7" y="657.24" font-size="7.4" text-anchor="end" fill="#231f20" stroke="#231f20" stroke-width="0.07">2</text>
<line x1="161.4" y1="608.68" x2="164.6" y2="608.68" stroke="#231f20" stroke-width="1.1"/>
<text x="157.7" y="611.28" font-size="7.4" text-anchor="end" fill="#231f20" stroke="#231f20" stroke-width="0.07">4</text>
<text x="148.2" y="651.0" font-size="8.6" text-anchor="middle" fill="#231f20" transform="rotate(-90 148.2 651.0)" textLength="76" lengthAdjust="spacingAndGlyphs">Expression (fold change)</text>
<line x1="225.8" y1="607.5" x2="225.8" y2="700.6" stroke="#666" stroke-width="1"/>
<line x1="288.6" y1="607.5" x2="288.6" y2="700.6" stroke="#666" stroke-width="1"/>
<line x1="351.3" y1="607.5" x2="351.3" y2="700.6" stroke="#666" stroke-width="1"/>
<text x="194.8" y="600" font-size="8.6" text-anchor="middle" fill="#231f20" stroke="#231f20" stroke-width="0.07" textLength="28.8" lengthAdjust="spacingAndGlyphs">PF-382</text>
<text x="257" y="600" font-size="8.6" text-anchor="middle" fill="#231f20" stroke="#231f20" stroke-width="0.07" textLength="22" lengthAdjust="spacingAndGlyphs">PEER</text>
<text x="319.4" y="600" font-size="8.6" text-anchor="middle" fill="#231f20" stroke="#231f20" stroke-width="0.07" textLength="23.8" lengthAdjust="spacingAndGlyphs">Loucy</text>
<text x="381.5" y="600" font-size="8.6" text-anchor="middle" fill="#231f20" stroke="#231f20" stroke-width="0.07" textLength="37" lengthAdjust="spacingAndGlyphs">HPB-ALL</text>
<rect x="167.15" y="678.54" width="5.5" height="21.56" fill="#1b4a7a"/>
<line x1="169.9" y1="678.54" x2="169.9" y2="671.88" stroke="#333" stroke-width="0.6"/>
<line x1="168.5" y1="671.88" x2="171.3" y2="671.88" stroke="#333" stroke-width="0.6"/>
<circle cx="168.64" cy="681.59" r="1.3" fill="#fff" stroke="#3a3a3a" stroke-width="0.6"/>
<circle cx="168.36" cy="675.92" r="1.3" fill="#fff" stroke="#3a3a3a" stroke-width="0.6"/>
<circle cx="169.42" cy="677.92" r="1.3" fill="#fff" stroke="#3a3a3a" stroke-width="0.6"/>
<circle cx="169.93" cy="686.2" r="1.3" fill="#fff" stroke="#3a3a3a" stroke-width="0.6"/>
<circle cx="169.66" cy="686.55" r="1.3" fill="#fff" stroke="#3a3a3a" stroke-width="0.6"/>
<circle cx="168.43" cy="685.99" r="1.3" fill="#fff" stroke="#3a3a3a" stroke-width="0.6"/>
<circle cx="171.08" cy="679.85" r="1.3" fill="#fff" stroke="#3a3a3a" stroke-width="0.6"/>
<line x1="169.9" y1="700.6" x2="169.9" y2="703" stroke="#231f20" stroke-width="0.9"/>
<text x="169.8" y="711" font-size="7.5" text-anchor="end" fill="#231f20" stroke="#231f20" stroke-width="0.07" transform="rotate(-45 169.8 711)">NT</text>
<rect x="176.1" y="694.86" width="5.5" height="5.25" fill="#1b4a7a"/>
<line x1="178.85" y1="694.86" x2="178.85" y2="693.71" stroke="#333" stroke-width="0.6"/>
<line x1="177.45" y1="693.71" x2="180.25" y2="693.71" stroke="#333" stroke-width="0.6"/>
<circle cx="177.85" cy="695.98" r="1.3" fill="#fff" stroke="#3a3a3a" stroke-width="0.6"/>
<circle cx="180.46" cy="694.47" r="1.3" fill="#fff" stroke="#3a3a3a" stroke-width="0.6"/>
<circle cx="178.48" cy="694.62" r="1.3" fill="#fff" stroke="#3a3a3a" stroke-width="0.6"/>
<circle cx="177.22" cy="693.43" r="1.3" fill="#fff" stroke="#3a3a3a" stroke-width="0.6"/>
<circle cx="178.09" cy="693.78" r="1.3" fill="#fff" stroke="#3a3a3a" stroke-width="0.6"/>
<circle cx="177.47" cy="695.92" r="1.3" fill="#fff" stroke="#3a3a3a" stroke-width="0.6"/>
<circle cx="179.99" cy="695.43" r="1.3" fill="#fff" stroke="#3a3a3a" stroke-width="0.6"/>
<line x1="178.85" y1="700.6" x2="178.85" y2="703" stroke="#231f20" stroke-width="0.9"/>
<text x="178.75" y="711" font-size="7.5" text-anchor="end" fill="#231f20" stroke="#231f20" stroke-width="0.07" transform="rotate(-45 178.75 711)">50nM</text>
<rect x="184.65" y="693.25" width="5.5" height="6.85" fill="#1b4a7a"/>
<line x1="187.4" y1="693.25" x2="187.4" y2="691.87" stroke="#333" stroke-width="0.6"/>
<line x1="186" y1="691.87" x2="188.8" y2="691.87" stroke="#333" stroke-width="0.6"/>
<circle cx="187.69" cy="694.39" r="1.3" fill="#fff" stroke="#3a3a3a" stroke-width="0.6"/>
<circle cx="186.94" cy="692.75" r="1.3" fill="#fff" stroke="#3a3a3a" stroke-width="0.6"/>
<circle cx="185.83" cy="693.08" r="1.3" fill="#fff" stroke="#3a3a3a" stroke-width="0.6"/>
<circle cx="186.34" cy="694.83" r="1.3" fill="#fff" stroke="#3a3a3a" stroke-width="0.6"/>
<circle cx="187.14" cy="692.6" r="1.3" fill="#fff" stroke="#3a3a3a" stroke-width="0.6"/>
<circle cx="187.71" cy="693.91" r="1.3" fill="#fff" stroke="#3a3a3a" stroke-width="0.6"/>
<circle cx="186.68" cy="693.41" r="1.3" fill="#fff" stroke="#3a3a3a" stroke-width="0.6"/>
<line x1="187.4" y1="700.6" x2="187.4" y2="703" stroke="#231f20" stroke-width="0.9"/>
<text x="187.3" y="711" font-size="7.5" text-anchor="end" fill="#231f20" stroke="#231f20" stroke-width="0.07" transform="rotate(-45 187.3 711)">100nM</text>
<rect x="198.6" y="679" width="5.5" height="21.1" fill="#cc0a2e"/>
<line x1="201.35" y1="679" x2="201.35" y2="671.88" stroke="#333" stroke-width="0.6"/>
<line x1="199.95" y1="671.88" x2="202.75" y2="671.88" stroke="#333" stroke-width="0.6"/>
<circle cx="202.07" cy="673.55" r="1.3" fill="#fff" stroke="#3a3a3a" stroke-width="0.6"/>
<circle cx="201.62" cy="683.74" r="1.3" fill="#fff" stroke="#3a3a3a" stroke-width="0.6"/>
<circle cx="202.7" cy="678.53" r="1.3" fill="#fff" stroke="#3a3a3a" stroke-width="0.6"/>
<circle cx="200.59" cy="674.75" r="1.3" fill="#fff" stroke="#3a3a3a" stroke-width="0.6"/>
<circle cx="199.98" cy="670.11" r="1.3" fill="#fff" stroke="#3a3a3a" stroke-width="0.6"/>
<circle cx="202.28" cy="680.52" r="1.3" fill="#fff" stroke="#3a3a3a" stroke-width="0.6"/>
<circle cx="201.31" cy="685.44" r="1.3" fill="#fff" stroke="#3a3a3a" stroke-width="0.6"/>
<line x1="201.35" y1="700.6" x2="201.35" y2="703" stroke="#231f20" stroke-width="0.9"/>
<text x="201.25" y="711" font-size="7.5" text-anchor="end" fill="#231f20" stroke="#231f20" stroke-width="0.07" transform="rotate(-45 201.25 711)">NT</text>
<rect x="207.35" y="673.71" width="5.5" height="26.39" fill="#cc0a2e"/>
<line x1="210.1" y1="673.71" x2="210.1" y2="670.73" stroke="#333" stroke-width="0.6"/>
<line x1="208.7" y1="670.73" x2="211.5" y2="670.73" stroke="#333" stroke-width="0.6"/>
<circle cx="210.71" cy="677.29" r="1.3" fill="#fff" stroke="#3a3a3a" stroke-width="0.6"/>
<circle cx="210.36" cy="671.66" r="1.3" fill="#fff" stroke="#3a3a3a" stroke-width="0.6"/>
<circle cx="209.43" cy="670.8" r="1.3" fill="#fff" stroke="#3a3a3a" stroke-width="0.6"/>
<circle cx="210.44" cy="672.2" r="1.3" fill="#fff" stroke="#3a3a3a" stroke-width="0.6"/>
<circle cx="209.94" cy="673.09" r="1.3" fill="#fff" stroke="#3a3a3a" stroke-width="0.6"/>
<circle cx="211.7" cy="671.07" r="1.3" fill="#fff" stroke="#3a3a3a" stroke-width="0.6"/>
<circle cx="210.69" cy="673.91" r="1.3" fill="#fff" stroke="#3a3a3a" stroke-width="0.6"/>
<line x1="210.1" y1="700.6" x2="210.1" y2="703" stroke="#231f20" stroke-width="0.9"/>
<text x="210" y="711" font-size="7.5" text-anchor="end" fill="#231f20" stroke="#231f20" stroke-width="0.07" transform="rotate(-45 210 711)">50nM</text>
<rect x="215.9" y="647.06" width="5.5" height="53.04" fill="#cc0a2e"/>
<line x1="218.65" y1="647.06" x2="218.65" y2="630.51" stroke="#333" stroke-width="0.6"/>
<line x1="217.25" y1="630.51" x2="220.05" y2="630.51" stroke="#333" stroke-width="0.6"/>
<circle cx="219.38" cy="665.96" r="1.3" fill="#fff" stroke="#3a3a3a" stroke-width="0.6"/>
<circle cx="220.43" cy="640.73" r="1.3" fill="#fff" stroke="#3a3a3a" stroke-width="0.6"/>
<circle cx="217.87" cy="633.21" r="1.3" fill="#fff" stroke="#3a3a3a" stroke-width="0.6"/>
<circle cx="219.26" cy="651.97" r="1.3" fill="#fff" stroke="#3a3a3a" stroke-width="0.6"/>
<circle cx="218.51" cy="667.6" r="1.3" fill="#fff" stroke="#3a3a3a" stroke-width="0.6"/>
<circle cx="217.27" cy="661.34" r="1.3" fill="#fff" stroke="#3a3a3a" stroke-width="0.6"/>
<circle cx="219.62" cy="666.03" r="1.3" fill="#fff" stroke="#3a3a3a" stroke-width="0.6"/>
<line x1="218.65" y1="700.6" x2="218.65" y2="703" stroke="#231f20" stroke-width="0.9"/>
<text x="218.55" y="711" font-size="7.5" text-anchor="end" fill="#231f20" stroke="#231f20" stroke-width="0.07" transform="rotate(-45 218.55 711)">100nM</text>
<rect x="229.65" y="677.62" width="5.5" height="22.48" fill="#1b4a7a"/>
<line x1="232.4" y1="677.62" x2="232.4" y2="671.88" stroke="#333" stroke-width="0.6"/>
<line x1="231" y1="671.88" x2="233.8" y2="671.88" stroke="#333" stroke-width="0.6"/>
<circle cx="231.49" cy="683.16" r="1.3" fill="#fff" stroke="#3a3a3a" stroke-width="0.6"/>
<circle cx="233.74" cy="679.25" r="1.3" fill="#fff" stroke="#3a3a3a" stroke-width="0.6"/>
<circle cx="232.22" cy="683.88" r="1.3" fill="#fff" stroke="#3a3a3a" stroke-width="0.6"/>
<circle cx="233.78" cy="676.88" r="1.3" fill="#fff" stroke="#3a3a3a" stroke-width="0.6"/>
<circle cx="233.71" cy="672.85" r="1.3" fill="#fff" stroke="#3a3a3a" stroke-width="0.6"/>
<circle cx="232.1" cy="680.93" r="1.3" fill="#fff" stroke="#3a3a3a" stroke-width="0.6"/>
<circle cx="233.78" cy="679.73" r="1.3" fill="#fff" stroke="#3a3a3a" stroke-width="0.6"/>
<line x1="232.4" y1="700.6" x2="232.4" y2="703" stroke="#231f20" stroke-width="0.9"/>
<text x="232.3" y="711" font-size="7.5" text-anchor="end" fill="#231f20" stroke="#231f20" stroke-width="0.07" transform="rotate(-45 232.3 711)">NT</text>
<rect x="238.6" y="694.86" width="5.5" height="5.25" fill="#1b4a7a"/>
<line x1="241.35" y1="694.86" x2="241.35" y2="693.71" stroke="#333" stroke-width="0.6"/>
<line x1="239.95" y1="693.71" x2="242.75" y2="693.71" stroke="#333" stroke-width="0.6"/>
<circle cx="240.09" cy="693.49" r="1.3" fill="#fff" stroke="#3a3a3a" stroke-width="0.6"/>
<circle cx="240.39" cy="695.82" r="1.3" fill="#fff" stroke="#3a3a3a" stroke-width="0.6"/>
<circle cx="241.3" cy="695.65" r="1.3" fill="#fff" stroke="#3a3a3a" stroke-width="0.6"/>
<circle cx="240.5" cy="694.59" r="1.3" fill="#fff" stroke="#3a3a3a" stroke-width="0.6"/>
<circle cx="241.06" cy="696.34" r="1.3" fill="#fff" stroke="#3a3a3a" stroke-width="0.6"/>
<circle cx="241.59" cy="695.25" r="1.3" fill="#fff" stroke="#3a3a3a" stroke-width="0.6"/>
<circle cx="242.04" cy="693.5" r="1.3" fill="#fff" stroke="#3a3a3a" stroke-width="0.6"/>
<line x1="241.35" y1="700.6" x2="241.35" y2="703" stroke="#231f20" stroke-width="0.9"/>
<text x="241.25" y="711" font-size="7.5" text-anchor="end" fill="#231f20" stroke="#231f20" stroke-width="0.07" transform="rotate(-45 241.25 711)">50nM</text>
<rect x="247.15" y="695.08" width="5.5" height="5.02" fill="#1b4a7a"/>
<line x1="249.9" y1="695.08" x2="249.9" y2="693.71" stroke="#333" stroke-width="0.6"/>
<line x1="248.5" y1="693.71" x2="251.3" y2="693.71" stroke="#333" stroke-width="0.6"/>
<circle cx="250.32" cy="695.03" r="1.3" fill="#fff" stroke="#3a3a3a" stroke-width="0.6"/>
<circle cx="248.29" cy="694.45" r="1.3" fill="#fff" stroke="#3a3a3a" stroke-width="0.6"/>
<circle cx="250.91" cy="693.65" r="1.3" fill="#fff" stroke="#3a3a3a" stroke-width="0.6"/>
<circle cx="250.97" cy="693.74" r="1.3" fill="#fff" stroke="#3a3a3a" stroke-width="0.6"/>
<circle cx="249.54" cy="695.47" r="1.3" fill="#fff" stroke="#3a3a3a" stroke-width="0.6"/>
<circle cx="250.38" cy="696.51" r="1.3" fill="#fff" stroke="#3a3a3a" stroke-width="0.6"/>
<circle cx="248.34" cy="696.65" r="1.3" fill="#fff" stroke="#3a3a3a" stroke-width="0.6"/>
<line x1="249.9" y1="700.6" x2="249.9" y2="703" stroke="#231f20" stroke-width="0.9"/>
<text x="249.8" y="711" font-size="7.5" text-anchor="end" fill="#231f20" stroke="#231f20" stroke-width="0.07" transform="rotate(-45 249.8 711)">100nM</text>
<rect x="261.1" y="678.08" width="5.5" height="22.02" fill="#cc0a2e"/>
<line x1="263.85" y1="678.08" x2="263.85" y2="673.02" stroke="#333" stroke-width="0.6"/>
<line x1="262.45" y1="673.02" x2="265.25" y2="673.02" stroke="#333" stroke-width="0.6"/>
<circle cx="262.63" cy="681.91" r="1.3" fill="#fff" stroke="#3a3a3a" stroke-width="0.6"/>
<circle cx="262.24" cy="680.18" r="1.3" fill="#fff" stroke="#3a3a3a" stroke-width="0.6"/>
<circle cx="262.59" cy="684.65" r="1.3" fill="#fff" stroke="#3a3a3a" stroke-width="0.6"/>
<circle cx="263.36" cy="683.32" r="1.3" fill="#fff" stroke="#3a3a3a" stroke-width="0.6"/>
<circle cx="265.2" cy="684.32" r="1.3" fill="#fff" stroke="#3a3a3a" stroke-width="0.6"/>
<circle cx="262.58" cy="676.58" r="1.3" fill="#fff" stroke="#3a3a3a" stroke-width="0.6"/>
<circle cx="263.3" cy="681.34" r="1.3" fill="#fff" stroke="#3a3a3a" stroke-width="0.6"/>
<line x1="263.85" y1="700.6" x2="263.85" y2="703" stroke="#231f20" stroke-width="0.9"/>
<text x="263.75" y="711" font-size="7.5" text-anchor="end" fill="#231f20" stroke="#231f20" stroke-width="0.07" transform="rotate(-45 263.75 711)">NT</text>
<rect x="269.85" y="673.71" width="5.5" height="26.39" fill="#cc0a2e"/>
<line x1="272.6" y1="673.71" x2="272.6" y2="663.83" stroke="#333" stroke-width="0.6"/>
<line x1="271.2" y1="663.83" x2="274" y2="663.83" stroke="#333" stroke-width="0.6"/>
<circle cx="271.24" cy="677.2" r="1.3" fill="#fff" stroke="#3a3a3a" stroke-width="0.6"/>
<circle cx="274.38" cy="664.75" r="1.3" fill="#fff" stroke="#3a3a3a" stroke-width="0.6"/>
<circle cx="272.54" cy="674.59" r="1.3" fill="#fff" stroke="#3a3a3a" stroke-width="0.6"/>
<circle cx="271.17" cy="684.35" r="1.3" fill="#fff" stroke="#3a3a3a" stroke-width="0.6"/>
<circle cx="271.75" cy="677.76" r="1.3" fill="#fff" stroke="#3a3a3a" stroke-width="0.6"/>
<circle cx="271.38" cy="665.26" r="1.3" fill="#fff" stroke="#3a3a3a" stroke-width="0.6"/>
<circle cx="274.22" cy="685.97" r="1.3" fill="#fff" stroke="#3a3a3a" stroke-width="0.6"/>
<line x1="272.6" y1="700.6" x2="272.6" y2="703" stroke="#231f20" stroke-width="0.9"/>
<text x="272.5" y="711" font-size="7.5" text-anchor="end" fill="#231f20" stroke="#231f20" stroke-width="0.07" transform="rotate(-45 272.5 711)">50nM</text>
<rect x="278.4" y="666.13" width="5.5" height="33.97" fill="#cc0a2e"/>
<line x1="281.15" y1="666.13" x2="281.15" y2="653.49" stroke="#333" stroke-width="0.6"/>
<line x1="279.75" y1="653.49" x2="282.55" y2="653.49" stroke="#333" stroke-width="0.6"/>
<circle cx="279.88" cy="665.2" r="1.3" fill="#fff" stroke="#3a3a3a" stroke-width="0.6"/>
<circle cx="279.45" cy="664.71" r="1.3" fill="#fff" stroke="#3a3a3a" stroke-width="0.6"/>
<circle cx="282.87" cy="665.21" r="1.3" fill="#fff" stroke="#3a3a3a" stroke-width="0.6"/>
<circle cx="281.86" cy="654.19" r="1.3" fill="#fff" stroke="#3a3a3a" stroke-width="0.6"/>
<circle cx="280.67" cy="673.98" r="1.3" fill="#fff" stroke="#3a3a3a" stroke-width="0.6"/>
<circle cx="282.13" cy="677.07" r="1.3" fill="#fff" stroke="#3a3a3a" stroke-width="0.6"/>
<circle cx="282.15" cy="665.06" r="1.3" fill="#fff" stroke="#3a3a3a" stroke-width="0.6"/>
<line x1="281.15" y1="700.6" x2="281.15" y2="703" stroke="#231f20" stroke-width="0.9"/>
<text x="281.05" y="711" font-size="7.5" text-anchor="end" fill="#231f20" stroke="#231f20" stroke-width="0.07" transform="rotate(-45 281.05 711)">100nM</text>
<rect x="292.15" y="676.47" width="5.5" height="23.63" fill="#1b4a7a"/>
<line x1="294.9" y1="676.47" x2="294.9" y2="673.02" stroke="#333" stroke-width="0.6"/>
<line x1="293.5" y1="673.02" x2="296.3" y2="673.02" stroke="#333" stroke-width="0.6"/>
<circle cx="293.9" cy="678" r="1.3" fill="#fff" stroke="#3a3a3a" stroke-width="0.6"/>
<circle cx="296.65" cy="673.68" r="1.3" fill="#fff" stroke="#3a3a3a" stroke-width="0.6"/>
<circle cx="296" cy="673.31" r="1.3" fill="#fff" stroke="#3a3a3a" stroke-width="0.6"/>
<circle cx="295.76" cy="673.62" r="1.3" fill="#fff" stroke="#3a3a3a" stroke-width="0.6"/>
<circle cx="294.96" cy="678.92" r="1.3" fill="#fff" stroke="#3a3a3a" stroke-width="0.6"/>
<circle cx="293.2" cy="677.77" r="1.3" fill="#fff" stroke="#3a3a3a" stroke-width="0.6"/>
<circle cx="294.11" cy="680.7" r="1.3" fill="#fff" stroke="#3a3a3a" stroke-width="0.6"/>
<line x1="294.9" y1="700.6" x2="294.9" y2="703" stroke="#231f20" stroke-width="0.9"/>
<text x="294.8" y="711" font-size="7.5" text-anchor="end" fill="#231f20" stroke="#231f20" stroke-width="0.07" transform="rotate(-45 294.8 711)">NT</text>
<rect x="301.1" y="695.08" width="5.5" height="5.02" fill="#1b4a7a"/>
<line x1="303.85" y1="695.08" x2="303.85" y2="693.71" stroke="#333" stroke-width="0.6"/>
<line x1="302.45" y1="693.71" x2="305.25" y2="693.71" stroke="#333" stroke-width="0.6"/>
<circle cx="304.54" cy="695.95" r="1.3" fill="#fff" stroke="#3a3a3a" stroke-width="0.6"/>
<circle cx="303.66" cy="693.45" r="1.3" fill="#fff" stroke="#3a3a3a" stroke-width="0.6"/>
<circle cx="305.61" cy="693.52" r="1.3" fill="#fff" stroke="#3a3a3a" stroke-width="0.6"/>
<circle cx="303.36" cy="693.45" r="1.3" fill="#fff" stroke="#3a3a3a" stroke-width="0.6"/>
<circle cx="302.87" cy="696.09" r="1.3" fill="#fff" stroke="#3a3a3a" stroke-width="0.6"/>
<circle cx="302.79" cy="696.17" r="1.3" fill="#fff" stroke="#3a3a3a" stroke-width="0.6"/>
<circle cx="305.29" cy="694.64" r="1.3" fill="#fff" stroke="#3a3a3a" stroke-width="0.6"/>
<line x1="303.85" y1="700.6" x2="303.85" y2="703" stroke="#231f20" stroke-width="0.9"/>
<text x="303.75" y="711" font-size="7.5" text-anchor="end" fill="#231f20" stroke="#231f20" stroke-width="0.07" transform="rotate(-45 303.75 711)">50nM</text>
<rect x="309.65" y="696.46" width="5.5" height="3.64" fill="#1b4a7a"/>
<line x1="312.4" y1="696.46" x2="312.4" y2="695.54" stroke="#333" stroke-width="0.6"/>
<line x1="311" y1="695.54" x2="313.8" y2="695.54" stroke="#333" stroke-width="0.6"/>
<circle cx="312.33" cy="695.45" r="1.3" fill="#fff" stroke="#3a3a3a" stroke-width="0.6"/>
<circle cx="313.48" cy="696.01" r="1.3" fill="#fff" stroke="#3a3a3a" stroke-width="0.6"/>
<circle cx="312.98" cy="697.7" r="1.3" fill="#fff" stroke="#3a3a3a" stroke-width="0.6"/>
<circle cx="313.42" cy="695.24" r="1.3" fill="#fff" stroke="#3a3a3a" stroke-width="0.6"/>
<circle cx="312.32" cy="695.72" r="1.3" fill="#fff" stroke="#3a3a3a" stroke-width="0.6"/>
<circle cx="313.44" cy="697.42" r="1.3" fill="#fff" stroke="#3a3a3a" stroke-width="0.6"/>
<circle cx="313.48" cy="696.96" r="1.3" fill="#fff" stroke="#3a3a3a" stroke-width="0.6"/>
<line x1="312.4" y1="700.6" x2="312.4" y2="703" stroke="#231f20" stroke-width="0.9"/>
<text x="312.3" y="711" font-size="7.5" text-anchor="end" fill="#231f20" stroke="#231f20" stroke-width="0.07" transform="rotate(-45 312.3 711)">100nM</text>
<rect x="323.6" y="675.78" width="5.5" height="24.32" fill="#cc0a2e"/>
<line x1="326.35" y1="675.78" x2="326.35" y2="673.02" stroke="#333" stroke-width="0.6"/>
<line x1="324.95" y1="673.02" x2="327.75" y2="673.02" stroke="#333" stroke-width="0.6"/>
<circle cx="325.98" cy="672.4" r="1.3" fill="#fff" stroke="#3a3a3a" stroke-width="0.6"/>
<circle cx="327.96" cy="676.49" r="1.3" fill="#fff" stroke="#3a3a3a" stroke-width="0.6"/>
<circle cx="325.16" cy="674.17" r="1.3" fill="#fff" stroke="#3a3a3a" stroke-width="0.6"/>
<circle cx="325.09" cy="678.46" r="1.3" fill="#fff" stroke="#3a3a3a" stroke-width="0.6"/>
<circle cx="327.45" cy="672.88" r="1.3" fill="#fff" stroke="#3a3a3a" stroke-width="0.6"/>
<circle cx="327.53" cy="678.32" r="1.3" fill="#fff" stroke="#3a3a3a" stroke-width="0.6"/>
<circle cx="326.92" cy="672.34" r="1.3" fill="#fff" stroke="#3a3a3a" stroke-width="0.6"/>
<line x1="326.35" y1="700.6" x2="326.35" y2="703" stroke="#231f20" stroke-width="0.9"/>
<text x="326.25" y="711" font-size="7.5" text-anchor="end" fill="#231f20" stroke="#231f20" stroke-width="0.07" transform="rotate(-45 326.25 711)">NT</text>
<rect x="332.35" y="661.53" width="5.5" height="38.57" fill="#cc0a2e"/>
<line x1="335.1" y1="661.53" x2="335.1" y2="655.79" stroke="#333" stroke-width="0.6"/>
<line x1="333.7" y1="655.79" x2="336.5" y2="655.79" stroke="#333" stroke-width="0.6"/>
<circle cx="335.28" cy="663.77" r="1.3" fill="#fff" stroke="#3a3a3a" stroke-width="0.6"/>
<circle cx="333.35" cy="667.05" r="1.3" fill="#fff" stroke="#3a3a3a" stroke-width="0.6"/>
<circle cx="335.64" cy="654.5" r="1.3" fill="#fff" stroke="#3a3a3a" stroke-width="0.6"/>
<circle cx="336.66" cy="661.14" r="1.3" fill="#fff" stroke="#3a3a3a" stroke-width="0.6"/>
<circle cx="336.44" cy="662.52" r="1.3" fill="#fff" stroke="#3a3a3a" stroke-width="0.6"/>
<circle cx="334.06" cy="656.66" r="1.3" fill="#fff" stroke="#3a3a3a" stroke-width="0.6"/>
<circle cx="334.35" cy="665.24" r="1.3" fill="#fff" stroke="#3a3a3a" stroke-width="0.6"/>
<line x1="335.1" y1="700.6" x2="335.1" y2="703" stroke="#231f20" stroke-width="0.9"/>
<text x="335" y="711" font-size="7.5" text-anchor="end" fill="#231f20" stroke="#231f20" stroke-width="0.07" transform="rotate(-45 335 711)">50nM</text>
<rect x="340.9" y="677.85" width="5.5" height="22.25" fill="#cc0a2e"/>
<line x1="343.65" y1="677.85" x2="343.65" y2="671.88" stroke="#333" stroke-width="0.6"/>
<line x1="342.25" y1="671.88" x2="345.05" y2="671.88" stroke="#333" stroke-width="0.6"/>
<circle cx="343.96" cy="681.88" r="1.3" fill="#fff" stroke="#3a3a3a" stroke-width="0.6"/>
<circle cx="343.36" cy="681.59" r="1.3" fill="#fff" stroke="#3a3a3a" stroke-width="0.6"/>
<circle cx="345.13" cy="683.58" r="1.3" fill="#fff" stroke="#3a3a3a" stroke-width="0.6"/>
<circle cx="343.5" cy="680.12" r="1.3" fill="#fff" stroke="#3a3a3a" stroke-width="0.6"/>
<circle cx="345.11" cy="676.56" r="1.3" fill="#fff" stroke="#3a3a3a" stroke-width="0.6"/>
<circle cx="345.15" cy="679.08" r="1.3" fill="#fff" stroke="#3a3a3a" stroke-width="0.6"/>
<circle cx="343.76" cy="677.82" r="1.3" fill="#fff" stroke="#3a3a3a" stroke-width="0.6"/>
<line x1="343.65" y1="700.6" x2="343.65" y2="703" stroke="#231f20" stroke-width="0.9"/>
<text x="343.55" y="711" font-size="7.5" text-anchor="end" fill="#231f20" stroke="#231f20" stroke-width="0.07" transform="rotate(-45 343.55 711)">100nM</text>
<rect x="354.65" y="677.85" width="5.5" height="22.25" fill="#1b4a7a"/>
<line x1="357.4" y1="677.85" x2="357.4" y2="673.02" stroke="#333" stroke-width="0.6"/>
<line x1="356" y1="673.02" x2="358.8" y2="673.02" stroke="#333" stroke-width="0.6"/>
<circle cx="355.67" cy="677.55" r="1.3" fill="#fff" stroke="#3a3a3a" stroke-width="0.6"/>
<circle cx="356.26" cy="678.6" r="1.3" fill="#fff" stroke="#3a3a3a" stroke-width="0.6"/>
<circle cx="358.48" cy="684.07" r="1.3" fill="#fff" stroke="#3a3a3a" stroke-width="0.6"/>
<circle cx="357.3" cy="681.96" r="1.3" fill="#fff" stroke="#3a3a3a" stroke-width="0.6"/>
<circle cx="357.6" cy="675.02" r="1.3" fill="#fff" stroke="#3a3a3a" stroke-width="0.6"/>
<circle cx="357.47" cy="680.03" r="1.3" fill="#fff" stroke="#3a3a3a" stroke-width="0.6"/>
<circle cx="358.42" cy="677.15" r="1.3" fill="#fff" stroke="#3a3a3a" stroke-width="0.6"/>
<line x1="357.4" y1="700.6" x2="357.4" y2="703" stroke="#231f20" stroke-width="0.9"/>
<text x="357.3" y="711" font-size="7.5" text-anchor="end" fill="#231f20" stroke="#231f20" stroke-width="0.07" transform="rotate(-45 357.3 711)">NT</text>
<rect x="363.6" y="697.15" width="5.5" height="2.95" fill="#1b4a7a"/>
<line x1="366.35" y1="697.15" x2="366.35" y2="696" stroke="#333" stroke-width="0.6"/>
<line x1="364.95" y1="696" x2="367.75" y2="696" stroke="#333" stroke-width="0.6"/>
<circle cx="366.57" cy="698.33" r="1.3" fill="#fff" stroke="#3a3a3a" stroke-width="0.6"/>
<circle cx="365.55" cy="697.9" r="1.3" fill="#fff" stroke="#3a3a3a" stroke-width="0.6"/>
<circle cx="366.38" cy="696.34" r="1.3" fill="#fff" stroke="#3a3a3a" stroke-width="0.6"/>
<circle cx="367.29" cy="696.97" r="1.3" fill="#fff" stroke="#3a3a3a" stroke-width="0.6"/>
<circle cx="366.15" cy="695.92" r="1.3" fill="#fff" stroke="#3a3a3a" stroke-width="0.6"/>
<circle cx="366.37" cy="696.82" r="1.3" fill="#fff" stroke="#3a3a3a" stroke-width="0.6"/>
<circle cx="367.04" cy="697.12" r="1.3" fill="#fff" stroke="#3a3a3a" stroke-width="0.6"/>
<line x1="366.35" y1="700.6" x2="366.35" y2="703" stroke="#231f20" stroke-width="0.9"/>
<text x="366.25" y="711" font-size="7.5" text-anchor="end" fill="#231f20" stroke="#231f20" stroke-width="0.07" transform="rotate(-45 366.25 711)">50nM</text>
<rect x="372.15" y="697.15" width="5.5" height="2.95" fill="#1b4a7a"/>
<line x1="374.9" y1="697.15" x2="374.9" y2="696" stroke="#333" stroke-width="0.6"/>
<line x1="373.5" y1="696" x2="376.3" y2="696" stroke="#333" stroke-width="0.6"/>
<circle cx="375.02" cy="697.3" r="1.3" fill="#fff" stroke="#3a3a3a" stroke-width="0.6"/>
<circle cx="376.49" cy="697.22" r="1.3" fill="#fff" stroke="#3a3a3a" stroke-width="0.6"/>
<circle cx="376.26" cy="696.56" r="1.3" fill="#fff" stroke="#3a3a3a" stroke-width="0.6"/>
<circle cx="374.03" cy="695.83" r="1.3" fill="#fff" stroke="#3a3a3a" stroke-width="0.6"/>
<circle cx="376.5" cy="696.98" r="1.3" fill="#fff" stroke="#3a3a3a" stroke-width="0.6"/>
<circle cx="373.59" cy="696.14" r="1.3" fill="#fff" stroke="#3a3a3a" stroke-width="0.6"/>
<circle cx="374.69" cy="698.28" r="1.3" fill="#fff" stroke="#3a3a3a" stroke-width="0.6"/>
<line x1="374.9" y1="700.6" x2="374.9" y2="703" stroke="#231f20" stroke-width="0.9"/>
<text x="374.8" y="711" font-size="7.5" text-anchor="end" fill="#231f20" stroke="#231f20" stroke-width="0.07" transform="rotate(-45 374.8 711)">100nM</text>
<rect x="386.1" y="678.54" width="5.5" height="21.56" fill="#cc0a2e"/>
<line x1="388.85" y1="678.54" x2="388.85" y2="674.17" stroke="#333" stroke-width="0.6"/>
<line x1="387.45" y1="674.17" x2="390.25" y2="674.17" stroke="#333" stroke-width="0.6"/>
<circle cx="387.92" cy="683.39" r="1.3" fill="#fff" stroke="#3a3a3a" stroke-width="0.6"/>
<circle cx="389.46" cy="683.39" r="1.3" fill="#fff" stroke="#3a3a3a" stroke-width="0.6"/>
<circle cx="390.28" cy="675.32" r="1.3" fill="#fff" stroke="#3a3a3a" stroke-width="0.6"/>
<circle cx="389.63" cy="682.46" r="1.3" fill="#fff" stroke="#3a3a3a" stroke-width="0.6"/>
<circle cx="387.56" cy="676.72" r="1.3" fill="#fff" stroke="#3a3a3a" stroke-width="0.6"/>
<circle cx="390.53" cy="674.19" r="1.3" fill="#fff" stroke="#3a3a3a" stroke-width="0.6"/>
<circle cx="390.48" cy="681.72" r="1.3" fill="#fff" stroke="#3a3a3a" stroke-width="0.6"/>
<line x1="388.85" y1="700.6" x2="388.85" y2="703" stroke="#231f20" stroke-width="0.9"/>
<text x="388.75" y="711" font-size="7.5" text-anchor="end" fill="#231f20" stroke="#231f20" stroke-width="0.07" transform="rotate(-45 388.75 711)">NT</text>
<rect x="394.85" y="669.81" width="5.5" height="30.29" fill="#cc0a2e"/>
<line x1="397.6" y1="669.81" x2="397.6" y2="663.83" stroke="#333" stroke-width="0.6"/>
<line x1="396.2" y1="663.83" x2="399" y2="663.83" stroke="#333" stroke-width="0.6"/>
<circle cx="397.55" cy="671.39" r="1.3" fill="#fff" stroke="#3a3a3a" stroke-width="0.6"/>
<circle cx="398.8" cy="662.2" r="1.3" fill="#fff" stroke="#3a3a3a" stroke-width="0.6"/>
<circle cx="397.35" cy="675.07" r="1.3" fill="#fff" stroke="#3a3a3a" stroke-width="0.6"/>
<circle cx="397.02" cy="669.56" r="1.3" fill="#fff" stroke="#3a3a3a" stroke-width="0.6"/>
<circle cx="396.95" cy="674.53" r="1.3" fill="#fff" stroke="#3a3a3a" stroke-width="0.6"/>
<circle cx="395.87" cy="666.36" r="1.3" fill="#fff" stroke="#3a3a3a" stroke-width="0.6"/>
<circle cx="397.39" cy="668.97" r="1.3" fill="#fff" stroke="#3a3a3a" stroke-width="0.6"/>
<line x1="397.6" y1="700.6" x2="397.6" y2="703" stroke="#231f20" stroke-width="0.9"/>
<text x="397.5" y="711" font-size="7.5" text-anchor="end" fill="#231f20" stroke="#231f20" stroke-width="0.07" transform="rotate(-45 397.5 711)">50nM</text>
<rect x="403.4" y="670.27" width="5.5" height="29.83" fill="#cc0a2e"/>
<line x1="406.15" y1="670.27" x2="406.15" y2="663.83" stroke="#333" stroke-width="0.6"/>
<line x1="404.75" y1="663.83" x2="407.55" y2="663.83" stroke="#333" stroke-width="0.6"/>
<circle cx="405.54" cy="678.33" r="1.3" fill="#fff" stroke="#3a3a3a" stroke-width="0.6"/>
<circle cx="406.19" cy="668.19" r="1.3" fill="#fff" stroke="#3a3a3a" stroke-width="0.6"/>
<circle cx="407.9" cy="677.56" r="1.3" fill="#fff" stroke="#3a3a3a" stroke-width="0.6"/>
<circle cx="407.85" cy="665.44" r="1.3" fill="#fff" stroke="#3a3a3a" stroke-width="0.6"/>
<circle cx="405.31" cy="676.88" r="1.3" fill="#fff" stroke="#3a3a3a" stroke-width="0.6"/>
<circle cx="407.15" cy="677.97" r="1.3" fill="#fff" stroke="#3a3a3a" stroke-width="0.6"/>
<circle cx="404.82" cy="674.11" r="1.3" fill="#fff" stroke="#3a3a3a" stroke-width="0.6"/>
<line x1="406.15" y1="700.6" x2="406.15" y2="703" stroke="#231f20" stroke-width="0.9"/>
<text x="406.05" y="711" font-size="7.5" text-anchor="end" fill="#231f20" stroke="#231f20" stroke-width="0.07" transform="rotate(-45 406.05 711)">100nM</text>
<line x1="170.4" y1="653.3" x2="187.7" y2="653.3" stroke="#333" stroke-width="1.2"/>
<text x="179.05" y="653.9" font-size="7.4" text-anchor="middle" fill="#231f20" stroke="#231f20" stroke-width="0.07">***</text>
<line x1="170.4" y1="661" x2="179" y2="661" stroke="#333" stroke-width="1.2"/>
<text x="174.7" y="661.6" font-size="7.4" text-anchor="middle" fill="#231f20" stroke="#231f20" stroke-width="0.07">***</text>
<line x1="232.9" y1="653.3" x2="250.2" y2="653.3" stroke="#333" stroke-width="1.2"/>
<text x="241.55" y="653.9" font-size="7.4" text-anchor="middle" fill="#231f20" stroke="#231f20" stroke-width="0.07">***</text>
<line x1="232.9" y1="661" x2="241.5" y2="661" stroke="#333" stroke-width="1.2"/>
<text x="237.2" y="661.6" font-size="7.4" text-anchor="middle" fill="#231f20" stroke="#231f20" stroke-width="0.07">***</text>
<line x1="295.4" y1="653.3" x2="312.7" y2="653.3" stroke="#333" stroke-width="1.2"/>
<text x="304.05" y="653.9" font-size="7.4" text-anchor="middle" fill="#231f20" stroke="#231f20" stroke-width="0.07">***</text>
<line x1="295.4" y1="661" x2="304" y2="661" stroke="#333" stroke-width="1.2"/>
<text x="299.7" y="661.6" font-size="7.4" text-anchor="middle" fill="#231f20" stroke="#231f20" stroke-width="0.07">***</text>
<line x1="357.9" y1="653.3" x2="375.2" y2="653.3" stroke="#333" stroke-width="1.2"/>
<text x="366.55" y="653.9" font-size="7.4" text-anchor="middle" fill="#231f20" stroke="#231f20" stroke-width="0.07">***</text>
<line x1="357.9" y1="661" x2="366.5" y2="661" stroke="#333" stroke-width="1.2"/>
<text x="362.2" y="661.6" font-size="7.4" text-anchor="middle" fill="#231f20" stroke="#231f20" stroke-width="0.07">***</text>
<line x1="201.5" y1="661" x2="209.8" y2="661" stroke="#333" stroke-width="1.2"/>
<text x="205.65" y="659.5" font-size="7.6" text-anchor="middle" fill="#231f20" stroke="#231f20" stroke-width="0.07">ns</text>
<line x1="202" y1="625.4" x2="218.8" y2="625.4" stroke="#333" stroke-width="1.2"/>
<text x="210.4" y="626" font-size="7.4" text-anchor="middle" fill="#231f20" stroke="#231f20" stroke-width="0.07">**</text>
<line x1="263.8" y1="661" x2="272" y2="661" stroke="#333" stroke-width="1.2"/>
<text x="267.9" y="659.5" font-size="7.6" text-anchor="middle" fill="#231f20" stroke="#231f20" stroke-width="0.07">ns</text>
<line x1="264.2" y1="640.8" x2="281.2" y2="640.8" stroke="#333" stroke-width="1.2"/>
<text x="272.7" y="641.4" font-size="7.4" text-anchor="middle" fill="#231f20" stroke="#231f20" stroke-width="0.07">*</text>
<line x1="326.3" y1="651.5" x2="335" y2="651.5" stroke="#333" stroke-width="1.2"/>
<text x="330.65" y="652.1" font-size="7.4" text-anchor="middle" fill="#231f20" stroke="#231f20" stroke-width="0.07">***</text>
<line x1="326.3" y1="642" x2="343" y2="642" stroke="#333" stroke-width="1.2"/>
<text x="334.65" y="640.5" font-size="7.6" text-anchor="middle" fill="#231f20" stroke="#231f20" stroke-width="0.07">ns</text>
<line x1="389.5" y1="651.5" x2="397.5" y2="651.5" stroke="#333" stroke-width="1.2"/>
<text x="393.5" y="652.1" font-size="7.4" text-anchor="middle" fill="#231f20" stroke="#231f20" stroke-width="0.07">***</text>
<line x1="389.5" y1="642" x2="406.3" y2="642" stroke="#333" stroke-width="1.2"/>
<text x="397.9" y="640.5" font-size="7.6" text-anchor="middle" fill="#231f20" stroke="#231f20" stroke-width="0.07">ns</text>
<text x="288.3" y="738.5" font-size="7.6" text-anchor="middle" fill="#231f20" stroke="#231f20" stroke-width="0.07" textLength="52.5" lengthAdjust="spacingAndGlyphs">CTCF siRNA pool</text>
<rect x="415.7" y="609.2" width="6.3" height="6.5" fill="#1b4a7a"/>
<rect x="415.7" y="620.8" width="6.3" height="6.4" fill="#cc0a2e"/>
<text x="425.4" y="615" font-size="7.6" font-style="italic" fill="#231f20" stroke="#231f20" stroke-width="0.07" textLength="18.4" lengthAdjust="spacingAndGlyphs">CTCF</text>
<text x="425.4" y="626.6" font-size="7.6" font-style="italic" fill="#231f20" stroke="#231f20" stroke-width="0.07" textLength="15" lengthAdjust="spacingAndGlyphs">IRX3</text>
<rect x="0.55" y="0.55" width="518.9" height="747.9" fill="none" stroke="#474747" stroke-width="1.1"/>
</svg>
</body></html>
